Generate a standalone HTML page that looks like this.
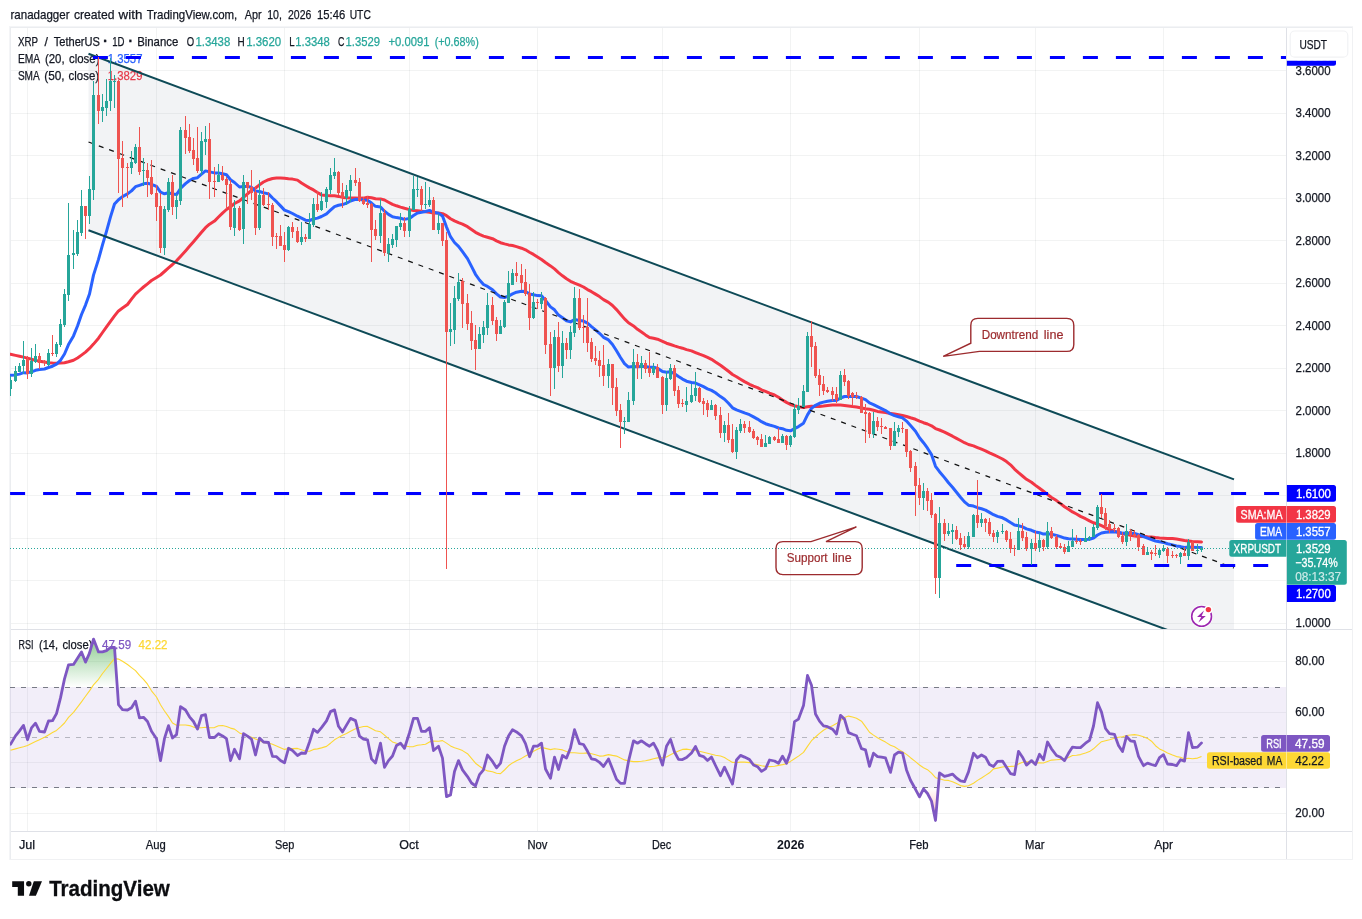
<!DOCTYPE html>
<html lang="en"><head><meta charset="utf-8"><title>XRPUSDT chart</title><style>html,body{margin:0;padding:0;background:#fff}body{width:1362px;height:919px;position:relative;overflow:hidden;font-family:"Liberation Sans",sans-serif}</style></head><body>
<svg width="1362" height="919" viewBox="0 0 1362 919" style="position:absolute;left:0;top:0;font-family:'Liberation Sans',sans-serif">
<defs>
<clipPath id="cm"><rect x="10" y="27" width="1276" height="602"/></clipPath>
<clipPath id="cr"><rect x="10" y="630" width="1276" height="201"/></clipPath>
<clipPath id="c70"><rect x="10" y="630" width="1276" height="57.1"/></clipPath>
<clipPath id="c30"><rect x="10" y="788.0" width="1276" height="43.0"/></clipPath>
<linearGradient id="gg" gradientUnits="userSpaceOnUse" x1="0" y1="611.4" x2="0" y2="687.1"><stop offset="0" stop-color="#4caf50" stop-opacity="1"/><stop offset="1" stop-color="#4caf50" stop-opacity="0"/></linearGradient>
<linearGradient id="gr" gradientUnits="userSpaceOnUse" x1="0" y1="788.0" x2="0" y2="863.7"><stop offset="0" stop-color="#ff5252" stop-opacity="0"/><stop offset="1" stop-color="#ff5252" stop-opacity="1"/></linearGradient>
</defs>
<rect x="9" y="26" width="1344" height="834" fill="#f4f5f7"/>
<rect x="10" y="27" width="1342.5" height="832.5" fill="#ebedf0"/>
<rect x="11" y="28" width="1341" height="831" fill="#fff"/>
<g shape-rendering="crispEdges" fill="rgba(42,46,57,0.06)">
<rect x="27" y="28" width="1" height="601"/>
<rect x="27" y="630" width="1" height="201"/>
<rect x="156" y="28" width="1" height="601"/>
<rect x="156" y="630" width="1" height="201"/>
<rect x="284" y="28" width="1" height="601"/>
<rect x="284" y="630" width="1" height="201"/>
<rect x="409" y="28" width="1" height="601"/>
<rect x="409" y="630" width="1" height="201"/>
<rect x="537" y="28" width="1" height="601"/>
<rect x="537" y="630" width="1" height="201"/>
<rect x="662" y="28" width="1" height="601"/>
<rect x="662" y="630" width="1" height="201"/>
<rect x="790" y="28" width="1" height="601"/>
<rect x="790" y="630" width="1" height="201"/>
<rect x="919" y="28" width="1" height="601"/>
<rect x="919" y="630" width="1" height="201"/>
<rect x="1035" y="28" width="1" height="601"/>
<rect x="1035" y="630" width="1" height="201"/>
<rect x="1163" y="28" width="1" height="601"/>
<rect x="1163" y="630" width="1" height="201"/>
<rect x="11" y="70" width="1275" height="1"/>
<rect x="11" y="113" width="1275" height="1"/>
<rect x="11" y="155" width="1275" height="1"/>
<rect x="11" y="198" width="1275" height="1"/>
<rect x="11" y="240" width="1275" height="1"/>
<rect x="11" y="283" width="1275" height="1"/>
<rect x="11" y="325" width="1275" height="1"/>
<rect x="11" y="368" width="1275" height="1"/>
<rect x="11" y="410" width="1275" height="1"/>
<rect x="11" y="453" width="1275" height="1"/>
<rect x="11" y="495" width="1275" height="1"/>
<rect x="11" y="538" width="1275" height="1"/>
<rect x="11" y="580" width="1275" height="1"/>
<rect x="11" y="623" width="1275" height="1"/>
<rect x="11" y="661" width="1275" height="1"/>
<rect x="11" y="712" width="1275" height="1"/>
<rect x="11" y="762" width="1275" height="1"/>
<rect x="11" y="813" width="1275" height="1"/>
</g>
<text y="45.8" font-size="12.3" fill="#131722" xml:space="preserve"><tspan x="17.9" textLength="19.9" lengthAdjust="spacingAndGlyphs" stroke="#131722" stroke-width="0.25">XRP</tspan> <tspan x="44.44" stroke="#131722" stroke-width="0.25">/</tspan> <tspan x="53.7" textLength="46.2" lengthAdjust="spacingAndGlyphs" stroke="#131722" stroke-width="0.25">TetherUS</tspan> <tspan x="103.1" stroke="#131722" stroke-width="0.25" font-weight="bold" font-size="15">·</tspan> <tspan x="112.2" textLength="12.3" lengthAdjust="spacingAndGlyphs" stroke="#131722" stroke-width="0.25">1D</tspan> <tspan x="128.3" stroke="#131722" stroke-width="0.25" font-weight="bold" font-size="15">·</tspan> <tspan x="137.2" textLength="41.1" lengthAdjust="spacingAndGlyphs" stroke="#131722" stroke-width="0.25">Binance</tspan> <tspan x="186.7" textLength="7.4" lengthAdjust="spacingAndGlyphs" stroke="#131722" stroke-width="0.25">O</tspan> <tspan x="195.4" textLength="34.9" lengthAdjust="spacingAndGlyphs" fill="#26a69a" stroke="#26a69a" stroke-width="0.25">1.3438</tspan> <tspan x="237.6" textLength="7.2" lengthAdjust="spacingAndGlyphs" stroke="#131722" stroke-width="0.25">H</tspan> <tspan x="246.2" textLength="35.0" lengthAdjust="spacingAndGlyphs" fill="#26a69a" stroke="#26a69a" stroke-width="0.25">1.3620</tspan> <tspan x="289.2" textLength="5.0" lengthAdjust="spacingAndGlyphs" stroke="#131722" stroke-width="0.25">L</tspan> <tspan x="295.3" textLength="34.5" lengthAdjust="spacingAndGlyphs" fill="#26a69a" stroke="#26a69a" stroke-width="0.25">1.3348</tspan> <tspan x="337.9" textLength="6.4" lengthAdjust="spacingAndGlyphs" stroke="#131722" stroke-width="0.25">C</tspan> <tspan x="345.5" textLength="34.5" lengthAdjust="spacingAndGlyphs" fill="#26a69a" stroke="#26a69a" stroke-width="0.25">1.3529</tspan> <tspan x="388.5" textLength="41.0" lengthAdjust="spacingAndGlyphs" fill="#26a69a" stroke="#26a69a" stroke-width="0.25">+0.0091</tspan> <tspan x="434.7" textLength="44.1" lengthAdjust="spacingAndGlyphs" fill="#26a69a" stroke="#26a69a" stroke-width="0.25">(+0.68%)</tspan></text>
<text y="62.8" font-size="12.3" fill="#131722" xml:space="preserve"><tspan x="17.9" textLength="21.7" lengthAdjust="spacingAndGlyphs" stroke="#131722" stroke-width="0.25">EMA</tspan> <tspan x="44.9" textLength="19.7" lengthAdjust="spacingAndGlyphs" stroke="#131722" stroke-width="0.25">(20,</tspan> <tspan x="69.0" textLength="30.5" lengthAdjust="spacingAndGlyphs" stroke="#131722" stroke-width="0.25">close)</tspan> <tspan x="107.8" textLength="34.7" lengthAdjust="spacingAndGlyphs" fill="#2962ff" stroke="#2962ff" stroke-width="0.25">1.3557</tspan></text>
<text y="79.9" font-size="12.3" fill="#131722" xml:space="preserve"><tspan x="17.9" textLength="21.3" lengthAdjust="spacingAndGlyphs" stroke="#131722" stroke-width="0.25">SMA</tspan> <tspan x="44.2" textLength="20.4" lengthAdjust="spacingAndGlyphs" stroke="#131722" stroke-width="0.25">(50,</tspan> <tspan x="68.6" textLength="30.5" lengthAdjust="spacingAndGlyphs" stroke="#131722" stroke-width="0.25">close)</tspan> <tspan x="107.8" textLength="34.7" lengthAdjust="spacingAndGlyphs" fill="#f23645" stroke="#f23645" stroke-width="0.25">1.3829</tspan></text>
<g clip-path="url(#cm)">
<polygon points="88.5,53.7 1234.0,479.4 1234.0,654.6 88.5,230.2" fill="rgba(105,118,138,0.088)"/>
<polyline points="10.5,354.3 15.5,355.4 19.5,356.2 23.5,357.1 27.5,358.1 31.5,359.2 35.5,360.4 39.5,361.2 44.5,362.1 48.5,362.8 52.5,363.1 56.5,363.3 60.5,363.1 64.5,362.8 68.5,361.8 73.5,360.3 77.5,358.0 81.5,355.1 85.5,352.1 89.5,348.4 93.5,344.1 98.5,338.2 102.5,332.5 106.5,326.9 110.5,321.3 114.5,315.9 118.5,310.9 122.5,308.1 127.5,304.5 131.5,299.1 135.5,294.1 139.5,290.5 143.5,287.0 147.5,283.8 151.5,280.5 156.5,277.4 160.5,275.0 164.5,271.5 168.5,267.9 172.5,264.5 176.5,260.8 180.5,256.4 185.5,250.9 189.5,246.3 193.5,241.7 197.5,237.1 201.5,232.3 205.5,227.7 209.5,224.2 214.5,221.1 218.5,217.0 222.5,213.1 226.5,209.5 230.5,206.8 234.5,203.5 239.5,200.9 243.5,197.4 247.5,193.9 251.5,190.5 255.5,188.0 259.5,184.8 263.5,182.0 268.5,179.7 272.5,178.5 276.5,178.1 280.5,178.0 284.5,178.3 288.5,178.8 292.5,179.1 297.5,180.1 301.5,183.0 305.5,185.5 309.5,187.9 313.5,189.9 317.5,192.5 321.5,194.9 326.5,195.5 330.5,195.7 334.5,195.8 338.5,196.4 342.5,197.4 346.5,197.8 350.5,198.0 355.5,198.1 359.5,198.2 363.5,198.1 367.5,197.3 371.5,197.7 375.5,198.8 380.5,198.9 384.5,200.0 388.5,202.2 392.5,204.3 396.5,205.8 400.5,207.1 404.5,208.3 409.5,209.6 413.5,210.6 417.5,210.8 421.5,211.2 425.5,211.8 429.5,212.2 433.5,213.1 438.5,213.0 442.5,213.7 446.5,215.7 450.5,218.7 454.5,220.9 458.5,222.7 462.5,224.2 467.5,226.7 471.5,229.5 475.5,232.3 479.5,234.3 483.5,236.1 487.5,237.3 492.5,238.7 496.5,240.8 500.5,242.7 504.5,243.9 508.5,244.9 512.5,245.5 516.5,246.6 521.5,248.2 525.5,249.8 529.5,252.2 533.5,254.4 537.5,257.0 541.5,259.5 545.5,262.5 550.5,265.9 554.5,268.9 558.5,272.6 562.5,275.8 566.5,278.8 570.5,281.3 574.5,283.2 579.5,285.2 583.5,287.0 587.5,289.6 591.5,291.7 595.5,294.1 599.5,296.6 603.5,299.6 608.5,302.4 612.5,305.5 616.5,309.6 620.5,314.2 624.5,318.9 628.5,322.8 633.5,325.9 637.5,329.3 641.5,332.0 645.5,334.9 649.5,337.5 653.5,338.2 657.5,339.2 662.5,341.3 666.5,343.2 670.5,344.5 674.5,345.9 678.5,347.1 682.5,348.2 686.5,349.6 691.5,350.9 695.5,352.6 699.5,354.2 703.5,355.6 707.5,357.3 711.5,359.3 715.5,362.0 720.5,365.2 724.5,368.2 728.5,371.3 732.5,374.5 736.5,376.7 740.5,379.2 744.5,381.6 749.5,384.3 753.5,386.2 757.5,387.6 761.5,389.8 765.5,391.4 769.5,393.2 774.5,395.0 778.5,397.3 782.5,400.0 786.5,402.4 790.5,404.5 794.5,405.8 798.5,406.8 803.5,407.4 807.5,406.8 811.5,406.2 815.5,406.4 819.5,406.4 823.5,406.0 827.5,405.4 832.5,404.9 836.5,404.9 840.5,405.1 844.5,405.4 848.5,406.0 852.5,406.6 856.5,407.1 861.5,408.0 865.5,408.7 869.5,409.3 873.5,410.2 877.5,411.4 881.5,412.1 885.5,412.6 890.5,413.4 894.5,414.0 898.5,414.7 902.5,415.5 906.5,416.5 910.5,417.8 915.5,419.3 919.5,421.2 923.5,422.7 927.5,424.0 931.5,425.8 935.5,428.6 939.5,430.0 944.5,432.1 948.5,434.2 952.5,436.2 956.5,438.4 960.5,440.5 964.5,442.7 968.5,444.5 973.5,445.9 977.5,447.6 981.5,449.2 985.5,450.8 989.5,452.8 993.5,454.6 997.5,456.5 1002.5,459.0 1006.5,461.6 1010.5,464.8 1014.5,469.1 1018.5,472.7 1022.5,476.0 1026.5,479.3 1031.5,482.3 1035.5,485.4 1039.5,488.3 1043.5,491.3 1047.5,494.4 1051.5,497.5 1056.5,500.6 1060.5,503.6 1064.5,506.7 1068.5,509.3 1072.5,511.9 1076.5,514.0 1080.5,516.4 1085.5,518.7 1089.5,520.9 1093.5,522.8 1097.5,524.0 1101.5,525.7 1105.5,527.7 1109.5,529.7 1114.5,531.2 1118.5,532.6 1122.5,533.7 1126.5,534.4 1130.5,535.3 1134.5,536.0 1138.5,536.6 1143.5,536.2 1147.5,536.7 1151.5,537.1 1155.5,537.6 1159.5,538.0 1163.5,538.2 1167.5,538.4 1172.5,538.6 1176.5,539.0 1180.5,539.7 1184.5,540.4 1188.5,540.9 1192.5,541.4 1197.5,541.7 1201.5,542.0" fill="none" stroke="#f23645" stroke-width="3" stroke-linejoin="round" stroke-linecap="round" />
<polyline points="10.5,375.3 15.5,374.9 19.5,374.1 23.5,372.7 27.5,372.9 31.5,371.8 35.5,370.3 39.5,369.6 44.5,369.0 48.5,367.5 52.5,366.2 56.5,364.1 60.5,360.3 64.5,354.0 68.5,344.6 73.5,335.9 77.5,326.0 81.5,314.5 85.5,305.1 89.5,294.0 93.5,275.1 98.5,259.4 102.5,244.9 106.5,231.3 110.5,216.9 114.5,204.0 118.5,199.7 122.5,196.6 127.5,193.9 131.5,190.9 135.5,186.7 139.5,185.3 143.5,183.8 147.5,183.3 151.5,184.3 156.5,186.4 160.5,192.2 164.5,193.8 168.5,192.7 172.5,194.1 176.5,194.6 180.5,188.5 185.5,183.6 189.5,180.5 193.5,178.4 197.5,177.7 201.5,174.2 205.5,170.9 209.5,171.9 214.5,172.9 218.5,173.1 222.5,173.7 226.5,174.8 230.5,179.8 234.5,182.5 239.5,187.0 243.5,186.5 247.5,186.6 251.5,187.2 255.5,191.1 259.5,191.5 263.5,192.8 268.5,193.9 272.5,198.0 276.5,201.7 280.5,205.9 284.5,210.1 288.5,211.7 292.5,213.5 297.5,216.2 301.5,218.2 305.5,220.2 309.5,220.5 313.5,219.0 317.5,218.1 321.5,216.5 326.5,213.9 330.5,210.2 334.5,206.6 338.5,205.3 342.5,204.6 346.5,203.2 350.5,201.0 355.5,199.3 359.5,199.4 363.5,199.9 367.5,200.3 371.5,203.1 375.5,206.3 380.5,206.9 384.5,211.2 388.5,214.4 392.5,216.8 396.5,217.6 400.5,218.2 404.5,219.4 409.5,218.4 413.5,215.6 417.5,213.1 421.5,212.3 425.5,211.5 429.5,210.4 433.5,212.3 438.5,213.3 442.5,215.9 446.5,227.0 450.5,236.7 454.5,242.5 458.5,246.3 462.5,251.7 467.5,258.6 471.5,266.4 475.5,274.3 479.5,280.0 483.5,284.5 487.5,286.4 492.5,289.7 496.5,293.9 500.5,297.0 504.5,297.5 508.5,296.1 512.5,293.9 516.5,292.2 521.5,291.3 525.5,291.5 529.5,294.1 533.5,294.8 537.5,295.6 541.5,295.8 545.5,300.5 550.5,306.9 554.5,309.8 558.5,315.1 562.5,317.8 566.5,320.8 570.5,321.9 574.5,319.6 579.5,320.4 583.5,321.1 587.5,323.2 591.5,326.6 595.5,329.8 599.5,333.3 603.5,337.3 608.5,339.9 612.5,344.5 616.5,350.8 620.5,357.5 624.5,363.6 628.5,367.1 633.5,366.6 637.5,366.7 641.5,366.4 645.5,366.6 649.5,367.2 653.5,367.2 657.5,368.2 662.5,371.6 666.5,372.2 670.5,371.8 674.5,373.7 678.5,376.5 682.5,379.1 686.5,381.2 691.5,382.5 695.5,383.1 699.5,384.9 703.5,386.7 707.5,388.8 711.5,390.4 715.5,392.8 720.5,396.6 724.5,399.3 728.5,403.2 732.5,407.8 736.5,409.9 740.5,411.3 744.5,412.9 749.5,414.7 753.5,416.9 757.5,419.1 761.5,421.7 765.5,423.7 769.5,425.0 774.5,426.4 778.5,428.0 782.5,428.7 786.5,430.3 790.5,430.8 794.5,428.7 798.5,426.6 803.5,423.2 807.5,414.9 811.5,408.4 815.5,405.3 819.5,403.3 823.5,402.1 827.5,401.2 832.5,400.6 836.5,400.5 840.5,398.0 844.5,396.5 848.5,396.4 852.5,396.5 856.5,396.5 861.5,398.1 865.5,399.6 869.5,402.9 873.5,404.6 877.5,406.7 881.5,408.7 885.5,410.6 890.5,413.9 894.5,415.6 898.5,416.7 902.5,417.9 906.5,421.1 910.5,425.6 915.5,431.3 919.5,437.7 923.5,442.7 927.5,448.2 931.5,454.6 935.5,466.3 939.5,471.7 944.5,477.6 948.5,482.7 952.5,487.2 956.5,492.2 960.5,497.2 964.5,501.9 968.5,505.2 973.5,506.1 977.5,507.7 981.5,508.8 985.5,510.1 989.5,512.4 993.5,514.7 997.5,516.4 1002.5,517.8 1006.5,519.9 1010.5,522.6 1014.5,525.1 1018.5,525.7 1022.5,526.9 1026.5,528.9 1031.5,530.3 1035.5,532.0 1039.5,532.7 1043.5,534.1 1047.5,533.8 1051.5,534.2 1056.5,535.4 1060.5,536.6 1064.5,538.1 1068.5,538.8 1072.5,539.0 1076.5,539.3 1080.5,539.6 1085.5,539.4 1089.5,539.2 1093.5,538.0 1097.5,535.0 1101.5,533.0 1105.5,532.3 1109.5,532.0 1114.5,531.8 1118.5,532.3 1122.5,533.2 1126.5,533.0 1130.5,533.2 1134.5,533.4 1138.5,534.7 1143.5,536.6 1147.5,538.1 1151.5,539.6 1155.5,541.0 1159.5,541.8 1163.5,542.4 1167.5,543.7 1172.5,544.9 1176.5,546.0 1180.5,546.6 1184.5,547.5 1188.5,547.0 1192.5,547.3 1197.5,547.6 1201.5,547.6" fill="none" stroke="#2962ff" stroke-width="3" stroke-linejoin="round" stroke-linecap="round" />
<line x1="88.5" y1="142.0" x2="1234.0" y2="568.0" stroke="#111" stroke-width="1.2" stroke-dasharray="5 6"/>
<line x1="88.5" y1="53.7" x2="1234.0" y2="479.4" stroke="#0e4a57" stroke-width="2"/>
<line x1="88.5" y1="230.2" x2="1234.0" y2="654.6" stroke="#0e4a57" stroke-width="2"/>
<line x1="92.9" y1="57.5" x2="1286" y2="57.5" stroke="#0000ff" stroke-width="3" stroke-dasharray="15 18"/>
<line x1="10.1" y1="493.5" x2="1286" y2="493.5" stroke="#0000ff" stroke-width="3" stroke-dasharray="15 18"/>
<line x1="956.2" y1="565.5" x2="1286" y2="565.5" stroke="#0000ff" stroke-width="3" stroke-dasharray="15 18"/>
<g shape-rendering="crispEdges">
<rect x="10" y="376" width="1" height="20" fill="#26a69a"/>
<rect x="9" y="380" width="3" height="9" fill="#26a69a"/>
<rect x="15" y="366" width="1" height="16" fill="#26a69a"/>
<rect x="14" y="371" width="3" height="10" fill="#26a69a"/>
<rect x="19" y="363" width="1" height="9" fill="#26a69a"/>
<rect x="18" y="366" width="3" height="6" fill="#26a69a"/>
<rect x="23" y="341" width="1" height="33" fill="#26a69a"/>
<rect x="22" y="360" width="3" height="6" fill="#26a69a"/>
<rect x="27" y="356" width="1" height="23" fill="#ef5350"/>
<rect x="26" y="359" width="3" height="15" fill="#ef5350"/>
<rect x="31" y="348" width="1" height="29" fill="#26a69a"/>
<rect x="30" y="361" width="3" height="13" fill="#26a69a"/>
<rect x="35" y="344" width="1" height="19" fill="#26a69a"/>
<rect x="34" y="356" width="3" height="6" fill="#26a69a"/>
<rect x="39" y="353" width="1" height="16" fill="#ef5350"/>
<rect x="38" y="356" width="3" height="7" fill="#ef5350"/>
<rect x="44" y="360" width="1" height="6" fill="#ef5350"/>
<rect x="43" y="361" width="3" height="2" fill="#ef5350"/>
<rect x="48" y="349" width="1" height="17" fill="#26a69a"/>
<rect x="47" y="353" width="3" height="12" fill="#26a69a"/>
<rect x="52" y="335" width="1" height="21" fill="#ef5350"/>
<rect x="51" y="353" width="3" height="1" fill="#ef5350"/>
<rect x="56" y="342" width="1" height="15" fill="#26a69a"/>
<rect x="55" y="344" width="3" height="10" fill="#26a69a"/>
<rect x="60" y="319" width="1" height="28" fill="#26a69a"/>
<rect x="59" y="324" width="3" height="21" fill="#26a69a"/>
<rect x="64" y="289" width="1" height="38" fill="#26a69a"/>
<rect x="63" y="294" width="3" height="31" fill="#26a69a"/>
<rect x="68" y="203" width="1" height="98" fill="#26a69a"/>
<rect x="67" y="255" width="3" height="40" fill="#26a69a"/>
<rect x="73" y="230" width="1" height="39" fill="#26a69a"/>
<rect x="72" y="253" width="3" height="2" fill="#26a69a"/>
<rect x="77" y="220" width="1" height="36" fill="#26a69a"/>
<rect x="76" y="232" width="3" height="22" fill="#26a69a"/>
<rect x="81" y="190" width="1" height="46" fill="#26a69a"/>
<rect x="80" y="206" width="3" height="27" fill="#26a69a"/>
<rect x="85" y="206" width="1" height="33" fill="#ef5350"/>
<rect x="84" y="206" width="3" height="10" fill="#ef5350"/>
<rect x="89" y="176" width="1" height="48" fill="#26a69a"/>
<rect x="88" y="189" width="3" height="27" fill="#26a69a"/>
<rect x="93" y="81" width="1" height="119" fill="#26a69a"/>
<rect x="92" y="95" width="3" height="95" fill="#26a69a"/>
<rect x="98" y="57" width="1" height="67" fill="#ef5350"/>
<rect x="97" y="95" width="3" height="16" fill="#ef5350"/>
<rect x="102" y="94" width="1" height="28" fill="#26a69a"/>
<rect x="101" y="107" width="3" height="4" fill="#26a69a"/>
<rect x="106" y="79" width="1" height="37" fill="#26a69a"/>
<rect x="105" y="101" width="3" height="7" fill="#26a69a"/>
<rect x="110" y="58" width="1" height="53" fill="#26a69a"/>
<rect x="109" y="81" width="3" height="20" fill="#26a69a"/>
<rect x="114" y="75" width="1" height="33" fill="#26a69a"/>
<rect x="113" y="81" width="3" height="1" fill="#26a69a"/>
<rect x="118" y="80" width="1" height="113" fill="#ef5350"/>
<rect x="117" y="81" width="3" height="78" fill="#ef5350"/>
<rect x="122" y="141" width="1" height="66" fill="#ef5350"/>
<rect x="121" y="158" width="3" height="10" fill="#ef5350"/>
<rect x="127" y="163" width="1" height="35" fill="#ef5350"/>
<rect x="126" y="167" width="3" height="1" fill="#ef5350"/>
<rect x="131" y="151" width="1" height="23" fill="#26a69a"/>
<rect x="130" y="162" width="3" height="6" fill="#26a69a"/>
<rect x="135" y="144" width="1" height="20" fill="#26a69a"/>
<rect x="134" y="147" width="3" height="16" fill="#26a69a"/>
<rect x="139" y="127" width="1" height="48" fill="#ef5350"/>
<rect x="138" y="147" width="3" height="25" fill="#ef5350"/>
<rect x="143" y="158" width="1" height="28" fill="#26a69a"/>
<rect x="142" y="170" width="3" height="1" fill="#26a69a"/>
<rect x="147" y="163" width="1" height="34" fill="#ef5350"/>
<rect x="146" y="170" width="3" height="8" fill="#ef5350"/>
<rect x="151" y="160" width="1" height="35" fill="#ef5350"/>
<rect x="150" y="177" width="3" height="17" fill="#ef5350"/>
<rect x="156" y="185" width="1" height="36" fill="#ef5350"/>
<rect x="155" y="193" width="3" height="14" fill="#ef5350"/>
<rect x="160" y="193" width="1" height="60" fill="#ef5350"/>
<rect x="159" y="206" width="3" height="42" fill="#ef5350"/>
<rect x="164" y="206" width="1" height="49" fill="#26a69a"/>
<rect x="163" y="209" width="3" height="39" fill="#26a69a"/>
<rect x="168" y="178" width="1" height="34" fill="#26a69a"/>
<rect x="167" y="182" width="3" height="28" fill="#26a69a"/>
<rect x="172" y="175" width="1" height="40" fill="#ef5350"/>
<rect x="171" y="182" width="3" height="25" fill="#ef5350"/>
<rect x="176" y="194" width="1" height="25" fill="#26a69a"/>
<rect x="175" y="200" width="3" height="7" fill="#26a69a"/>
<rect x="180" y="127" width="1" height="78" fill="#26a69a"/>
<rect x="179" y="130" width="3" height="71" fill="#26a69a"/>
<rect x="185" y="116" width="1" height="38" fill="#ef5350"/>
<rect x="184" y="130" width="3" height="8" fill="#ef5350"/>
<rect x="189" y="124" width="1" height="29" fill="#ef5350"/>
<rect x="188" y="137" width="3" height="14" fill="#ef5350"/>
<rect x="193" y="138" width="1" height="27" fill="#ef5350"/>
<rect x="192" y="150" width="3" height="9" fill="#ef5350"/>
<rect x="197" y="127" width="1" height="46" fill="#ef5350"/>
<rect x="196" y="158" width="3" height="13" fill="#ef5350"/>
<rect x="201" y="132" width="1" height="43" fill="#26a69a"/>
<rect x="200" y="141" width="3" height="30" fill="#26a69a"/>
<rect x="205" y="126" width="1" height="29" fill="#26a69a"/>
<rect x="204" y="139" width="3" height="3" fill="#26a69a"/>
<rect x="209" y="123" width="1" height="76" fill="#ef5350"/>
<rect x="208" y="139" width="3" height="43" fill="#ef5350"/>
<rect x="214" y="167" width="1" height="30" fill="#ef5350"/>
<rect x="213" y="181" width="3" height="1" fill="#ef5350"/>
<rect x="218" y="164" width="1" height="18" fill="#26a69a"/>
<rect x="217" y="175" width="3" height="7" fill="#26a69a"/>
<rect x="222" y="166" width="1" height="15" fill="#ef5350"/>
<rect x="221" y="175" width="3" height="5" fill="#ef5350"/>
<rect x="226" y="177" width="1" height="32" fill="#ef5350"/>
<rect x="225" y="179" width="3" height="6" fill="#ef5350"/>
<rect x="230" y="180" width="1" height="50" fill="#ef5350"/>
<rect x="229" y="184" width="3" height="43" fill="#ef5350"/>
<rect x="234" y="200" width="1" height="36" fill="#26a69a"/>
<rect x="233" y="208" width="3" height="20" fill="#26a69a"/>
<rect x="239" y="206" width="1" height="25" fill="#ef5350"/>
<rect x="238" y="208" width="3" height="22" fill="#ef5350"/>
<rect x="243" y="175" width="1" height="69" fill="#26a69a"/>
<rect x="242" y="182" width="3" height="47" fill="#26a69a"/>
<rect x="247" y="182" width="1" height="22" fill="#ef5350"/>
<rect x="246" y="182" width="3" height="6" fill="#ef5350"/>
<rect x="251" y="170" width="1" height="30" fill="#ef5350"/>
<rect x="250" y="187" width="3" height="6" fill="#ef5350"/>
<rect x="255" y="187" width="1" height="48" fill="#ef5350"/>
<rect x="254" y="192" width="3" height="36" fill="#ef5350"/>
<rect x="259" y="180" width="1" height="50" fill="#26a69a"/>
<rect x="258" y="195" width="3" height="33" fill="#26a69a"/>
<rect x="263" y="188" width="1" height="18" fill="#ef5350"/>
<rect x="262" y="195" width="3" height="10" fill="#ef5350"/>
<rect x="268" y="192" width="1" height="18" fill="#ef5350"/>
<rect x="267" y="204" width="3" height="1" fill="#ef5350"/>
<rect x="272" y="203" width="1" height="43" fill="#ef5350"/>
<rect x="271" y="205" width="3" height="32" fill="#ef5350"/>
<rect x="276" y="233" width="1" height="16" fill="#ef5350"/>
<rect x="275" y="236" width="3" height="1" fill="#ef5350"/>
<rect x="280" y="225" width="1" height="21" fill="#ef5350"/>
<rect x="279" y="236" width="3" height="10" fill="#ef5350"/>
<rect x="284" y="232" width="1" height="30" fill="#ef5350"/>
<rect x="283" y="245" width="3" height="5" fill="#ef5350"/>
<rect x="288" y="226" width="1" height="25" fill="#26a69a"/>
<rect x="287" y="227" width="3" height="23" fill="#26a69a"/>
<rect x="292" y="222" width="1" height="16" fill="#ef5350"/>
<rect x="291" y="227" width="3" height="5" fill="#ef5350"/>
<rect x="297" y="227" width="1" height="16" fill="#ef5350"/>
<rect x="296" y="231" width="3" height="11" fill="#ef5350"/>
<rect x="301" y="222" width="1" height="23" fill="#26a69a"/>
<rect x="300" y="237" width="3" height="5" fill="#26a69a"/>
<rect x="305" y="234" width="1" height="8" fill="#ef5350"/>
<rect x="304" y="237" width="3" height="2" fill="#ef5350"/>
<rect x="309" y="213" width="1" height="26" fill="#26a69a"/>
<rect x="308" y="224" width="3" height="15" fill="#26a69a"/>
<rect x="313" y="198" width="1" height="29" fill="#26a69a"/>
<rect x="312" y="204" width="3" height="21" fill="#26a69a"/>
<rect x="317" y="191" width="1" height="21" fill="#ef5350"/>
<rect x="316" y="204" width="3" height="6" fill="#ef5350"/>
<rect x="321" y="192" width="1" height="19" fill="#26a69a"/>
<rect x="320" y="201" width="3" height="9" fill="#26a69a"/>
<rect x="326" y="187" width="1" height="21" fill="#26a69a"/>
<rect x="325" y="189" width="3" height="13" fill="#26a69a"/>
<rect x="330" y="168" width="1" height="26" fill="#26a69a"/>
<rect x="329" y="175" width="3" height="15" fill="#26a69a"/>
<rect x="334" y="158" width="1" height="21" fill="#26a69a"/>
<rect x="333" y="172" width="3" height="4" fill="#26a69a"/>
<rect x="338" y="171" width="1" height="24" fill="#ef5350"/>
<rect x="337" y="172" width="3" height="21" fill="#ef5350"/>
<rect x="342" y="183" width="1" height="25" fill="#ef5350"/>
<rect x="341" y="192" width="3" height="6" fill="#ef5350"/>
<rect x="346" y="185" width="1" height="20" fill="#26a69a"/>
<rect x="345" y="190" width="3" height="8" fill="#26a69a"/>
<rect x="350" y="175" width="1" height="27" fill="#26a69a"/>
<rect x="349" y="180" width="3" height="11" fill="#26a69a"/>
<rect x="355" y="168" width="1" height="18" fill="#ef5350"/>
<rect x="354" y="180" width="3" height="3" fill="#ef5350"/>
<rect x="359" y="178" width="1" height="24" fill="#ef5350"/>
<rect x="358" y="182" width="3" height="19" fill="#ef5350"/>
<rect x="363" y="197" width="1" height="8" fill="#ef5350"/>
<rect x="362" y="200" width="3" height="4" fill="#ef5350"/>
<rect x="367" y="196" width="1" height="12" fill="#ef5350"/>
<rect x="366" y="203" width="3" height="2" fill="#ef5350"/>
<rect x="371" y="203" width="1" height="59" fill="#ef5350"/>
<rect x="370" y="204" width="3" height="26" fill="#ef5350"/>
<rect x="375" y="220" width="1" height="20" fill="#ef5350"/>
<rect x="374" y="229" width="3" height="7" fill="#ef5350"/>
<rect x="380" y="199" width="1" height="44" fill="#26a69a"/>
<rect x="379" y="213" width="3" height="23" fill="#26a69a"/>
<rect x="384" y="209" width="1" height="47" fill="#ef5350"/>
<rect x="383" y="213" width="3" height="40" fill="#ef5350"/>
<rect x="388" y="238" width="1" height="24" fill="#26a69a"/>
<rect x="387" y="244" width="3" height="9" fill="#26a69a"/>
<rect x="392" y="234" width="1" height="14" fill="#26a69a"/>
<rect x="391" y="239" width="3" height="6" fill="#26a69a"/>
<rect x="396" y="226" width="1" height="21" fill="#26a69a"/>
<rect x="395" y="226" width="3" height="14" fill="#26a69a"/>
<rect x="400" y="213" width="1" height="17" fill="#26a69a"/>
<rect x="399" y="223" width="3" height="4" fill="#26a69a"/>
<rect x="404" y="217" width="1" height="20" fill="#ef5350"/>
<rect x="403" y="223" width="3" height="8" fill="#ef5350"/>
<rect x="409" y="206" width="1" height="31" fill="#26a69a"/>
<rect x="408" y="209" width="3" height="22" fill="#26a69a"/>
<rect x="413" y="176" width="1" height="34" fill="#26a69a"/>
<rect x="412" y="189" width="3" height="21" fill="#26a69a"/>
<rect x="417" y="177" width="1" height="20" fill="#26a69a"/>
<rect x="416" y="189" width="3" height="1" fill="#26a69a"/>
<rect x="421" y="186" width="1" height="25" fill="#ef5350"/>
<rect x="420" y="189" width="3" height="16" fill="#ef5350"/>
<rect x="425" y="182" width="1" height="27" fill="#26a69a"/>
<rect x="424" y="204" width="3" height="1" fill="#26a69a"/>
<rect x="429" y="187" width="1" height="20" fill="#26a69a"/>
<rect x="428" y="200" width="3" height="5" fill="#26a69a"/>
<rect x="433" y="197" width="1" height="33" fill="#ef5350"/>
<rect x="432" y="200" width="3" height="30" fill="#ef5350"/>
<rect x="438" y="214" width="1" height="20" fill="#26a69a"/>
<rect x="437" y="223" width="3" height="7" fill="#26a69a"/>
<rect x="442" y="223" width="1" height="23" fill="#ef5350"/>
<rect x="441" y="223" width="3" height="18" fill="#ef5350"/>
<rect x="446" y="232" width="1" height="337" fill="#ef5350"/>
<rect x="445" y="240" width="3" height="92" fill="#ef5350"/>
<rect x="450" y="303" width="1" height="43" fill="#26a69a"/>
<rect x="449" y="329" width="3" height="3" fill="#26a69a"/>
<rect x="454" y="286" width="1" height="58" fill="#26a69a"/>
<rect x="453" y="298" width="3" height="32" fill="#26a69a"/>
<rect x="458" y="273" width="1" height="28" fill="#26a69a"/>
<rect x="457" y="282" width="3" height="17" fill="#26a69a"/>
<rect x="462" y="278" width="1" height="50" fill="#ef5350"/>
<rect x="461" y="281" width="3" height="23" fill="#ef5350"/>
<rect x="467" y="294" width="1" height="36" fill="#ef5350"/>
<rect x="466" y="303" width="3" height="21" fill="#ef5350"/>
<rect x="471" y="311" width="1" height="39" fill="#ef5350"/>
<rect x="470" y="323" width="3" height="18" fill="#ef5350"/>
<rect x="475" y="325" width="1" height="45" fill="#ef5350"/>
<rect x="474" y="340" width="3" height="9" fill="#ef5350"/>
<rect x="479" y="327" width="1" height="22" fill="#26a69a"/>
<rect x="478" y="334" width="3" height="15" fill="#26a69a"/>
<rect x="483" y="321" width="1" height="22" fill="#26a69a"/>
<rect x="482" y="327" width="3" height="8" fill="#26a69a"/>
<rect x="487" y="293" width="1" height="42" fill="#26a69a"/>
<rect x="486" y="305" width="3" height="23" fill="#26a69a"/>
<rect x="492" y="297" width="1" height="28" fill="#ef5350"/>
<rect x="491" y="305" width="3" height="16" fill="#ef5350"/>
<rect x="496" y="317" width="1" height="24" fill="#ef5350"/>
<rect x="495" y="320" width="3" height="14" fill="#ef5350"/>
<rect x="500" y="320" width="1" height="14" fill="#26a69a"/>
<rect x="499" y="326" width="3" height="8" fill="#26a69a"/>
<rect x="504" y="300" width="1" height="28" fill="#26a69a"/>
<rect x="503" y="302" width="3" height="25" fill="#26a69a"/>
<rect x="508" y="271" width="1" height="32" fill="#26a69a"/>
<rect x="507" y="283" width="3" height="20" fill="#26a69a"/>
<rect x="512" y="269" width="1" height="16" fill="#26a69a"/>
<rect x="511" y="273" width="3" height="12" fill="#26a69a"/>
<rect x="516" y="262" width="1" height="20" fill="#ef5350"/>
<rect x="515" y="273" width="3" height="3" fill="#ef5350"/>
<rect x="521" y="264" width="1" height="26" fill="#ef5350"/>
<rect x="520" y="275" width="3" height="8" fill="#ef5350"/>
<rect x="525" y="269" width="1" height="27" fill="#ef5350"/>
<rect x="524" y="282" width="3" height="12" fill="#ef5350"/>
<rect x="529" y="284" width="1" height="46" fill="#ef5350"/>
<rect x="528" y="293" width="3" height="25" fill="#ef5350"/>
<rect x="533" y="292" width="1" height="27" fill="#26a69a"/>
<rect x="532" y="302" width="3" height="16" fill="#26a69a"/>
<rect x="537" y="299" width="1" height="10" fill="#ef5350"/>
<rect x="536" y="302" width="3" height="1" fill="#ef5350"/>
<rect x="541" y="292" width="1" height="17" fill="#26a69a"/>
<rect x="540" y="298" width="3" height="6" fill="#26a69a"/>
<rect x="545" y="297" width="1" height="57" fill="#ef5350"/>
<rect x="544" y="298" width="3" height="47" fill="#ef5350"/>
<rect x="550" y="332" width="1" height="64" fill="#ef5350"/>
<rect x="549" y="344" width="3" height="24" fill="#ef5350"/>
<rect x="554" y="330" width="1" height="59" fill="#26a69a"/>
<rect x="553" y="337" width="3" height="31" fill="#26a69a"/>
<rect x="558" y="322" width="1" height="50" fill="#ef5350"/>
<rect x="557" y="337" width="3" height="29" fill="#ef5350"/>
<rect x="562" y="331" width="1" height="47" fill="#26a69a"/>
<rect x="561" y="343" width="3" height="23" fill="#26a69a"/>
<rect x="566" y="338" width="1" height="21" fill="#ef5350"/>
<rect x="565" y="343" width="3" height="7" fill="#ef5350"/>
<rect x="570" y="326" width="1" height="33" fill="#26a69a"/>
<rect x="569" y="332" width="3" height="18" fill="#26a69a"/>
<rect x="574" y="287" width="1" height="50" fill="#26a69a"/>
<rect x="573" y="298" width="3" height="35" fill="#26a69a"/>
<rect x="579" y="289" width="1" height="41" fill="#ef5350"/>
<rect x="578" y="298" width="3" height="30" fill="#ef5350"/>
<rect x="583" y="315" width="1" height="28" fill="#ef5350"/>
<rect x="582" y="327" width="3" height="1" fill="#ef5350"/>
<rect x="587" y="298" width="1" height="54" fill="#ef5350"/>
<rect x="586" y="327" width="3" height="16" fill="#ef5350"/>
<rect x="591" y="338" width="1" height="24" fill="#ef5350"/>
<rect x="590" y="342" width="3" height="17" fill="#ef5350"/>
<rect x="595" y="346" width="1" height="19" fill="#ef5350"/>
<rect x="594" y="358" width="3" height="3" fill="#ef5350"/>
<rect x="599" y="351" width="1" height="26" fill="#ef5350"/>
<rect x="598" y="360" width="3" height="6" fill="#ef5350"/>
<rect x="603" y="345" width="1" height="41" fill="#ef5350"/>
<rect x="602" y="365" width="3" height="11" fill="#ef5350"/>
<rect x="608" y="359" width="1" height="29" fill="#26a69a"/>
<rect x="607" y="364" width="3" height="12" fill="#26a69a"/>
<rect x="612" y="364" width="1" height="41" fill="#ef5350"/>
<rect x="611" y="364" width="3" height="24" fill="#ef5350"/>
<rect x="616" y="378" width="1" height="38" fill="#ef5350"/>
<rect x="615" y="387" width="3" height="24" fill="#ef5350"/>
<rect x="620" y="404" width="1" height="44" fill="#ef5350"/>
<rect x="619" y="410" width="3" height="12" fill="#ef5350"/>
<rect x="624" y="417" width="1" height="17" fill="#26a69a"/>
<rect x="623" y="421" width="3" height="1" fill="#26a69a"/>
<rect x="628" y="392" width="1" height="30" fill="#26a69a"/>
<rect x="627" y="400" width="3" height="22" fill="#26a69a"/>
<rect x="633" y="349" width="1" height="56" fill="#26a69a"/>
<rect x="632" y="362" width="3" height="39" fill="#26a69a"/>
<rect x="637" y="354" width="1" height="25" fill="#ef5350"/>
<rect x="636" y="362" width="3" height="6" fill="#ef5350"/>
<rect x="641" y="356" width="1" height="23" fill="#26a69a"/>
<rect x="640" y="363" width="3" height="5" fill="#26a69a"/>
<rect x="645" y="360" width="1" height="13" fill="#ef5350"/>
<rect x="644" y="363" width="3" height="6" fill="#ef5350"/>
<rect x="649" y="352" width="1" height="25" fill="#ef5350"/>
<rect x="648" y="368" width="3" height="5" fill="#ef5350"/>
<rect x="653" y="363" width="1" height="12" fill="#26a69a"/>
<rect x="652" y="367" width="3" height="6" fill="#26a69a"/>
<rect x="657" y="364" width="1" height="14" fill="#ef5350"/>
<rect x="656" y="367" width="3" height="11" fill="#ef5350"/>
<rect x="662" y="376" width="1" height="38" fill="#ef5350"/>
<rect x="661" y="377" width="3" height="28" fill="#ef5350"/>
<rect x="666" y="371" width="1" height="40" fill="#26a69a"/>
<rect x="665" y="378" width="3" height="27" fill="#26a69a"/>
<rect x="670" y="364" width="1" height="16" fill="#26a69a"/>
<rect x="669" y="368" width="3" height="11" fill="#26a69a"/>
<rect x="674" y="365" width="1" height="31" fill="#ef5350"/>
<rect x="673" y="368" width="3" height="23" fill="#ef5350"/>
<rect x="678" y="386" width="1" height="22" fill="#ef5350"/>
<rect x="677" y="390" width="3" height="14" fill="#ef5350"/>
<rect x="682" y="399" width="1" height="8" fill="#ef5350"/>
<rect x="681" y="403" width="3" height="1" fill="#ef5350"/>
<rect x="686" y="387" width="1" height="25" fill="#26a69a"/>
<rect x="685" y="401" width="3" height="4" fill="#26a69a"/>
<rect x="691" y="384" width="1" height="19" fill="#26a69a"/>
<rect x="690" y="395" width="3" height="7" fill="#26a69a"/>
<rect x="695" y="372" width="1" height="29" fill="#26a69a"/>
<rect x="694" y="388" width="3" height="8" fill="#26a69a"/>
<rect x="699" y="387" width="1" height="16" fill="#ef5350"/>
<rect x="698" y="388" width="3" height="14" fill="#ef5350"/>
<rect x="703" y="398" width="1" height="17" fill="#ef5350"/>
<rect x="702" y="401" width="3" height="3" fill="#ef5350"/>
<rect x="707" y="400" width="1" height="17" fill="#ef5350"/>
<rect x="706" y="403" width="3" height="7" fill="#ef5350"/>
<rect x="711" y="400" width="1" height="10" fill="#26a69a"/>
<rect x="710" y="405" width="3" height="5" fill="#26a69a"/>
<rect x="715" y="404" width="1" height="16" fill="#ef5350"/>
<rect x="714" y="405" width="3" height="11" fill="#ef5350"/>
<rect x="720" y="407" width="1" height="31" fill="#ef5350"/>
<rect x="719" y="415" width="3" height="18" fill="#ef5350"/>
<rect x="724" y="421" width="1" height="21" fill="#26a69a"/>
<rect x="723" y="425" width="3" height="8" fill="#26a69a"/>
<rect x="728" y="413" width="1" height="30" fill="#ef5350"/>
<rect x="727" y="425" width="3" height="15" fill="#ef5350"/>
<rect x="732" y="424" width="1" height="29" fill="#ef5350"/>
<rect x="731" y="439" width="3" height="13" fill="#ef5350"/>
<rect x="736" y="427" width="1" height="32" fill="#26a69a"/>
<rect x="735" y="430" width="3" height="22" fill="#26a69a"/>
<rect x="740" y="419" width="1" height="14" fill="#26a69a"/>
<rect x="739" y="424" width="3" height="7" fill="#26a69a"/>
<rect x="744" y="421" width="1" height="12" fill="#ef5350"/>
<rect x="743" y="424" width="3" height="4" fill="#ef5350"/>
<rect x="749" y="421" width="1" height="12" fill="#ef5350"/>
<rect x="748" y="427" width="3" height="5" fill="#ef5350"/>
<rect x="753" y="429" width="1" height="10" fill="#ef5350"/>
<rect x="752" y="431" width="3" height="7" fill="#ef5350"/>
<rect x="757" y="436" width="1" height="9" fill="#ef5350"/>
<rect x="756" y="437" width="3" height="3" fill="#ef5350"/>
<rect x="761" y="434" width="1" height="13" fill="#ef5350"/>
<rect x="760" y="439" width="3" height="8" fill="#ef5350"/>
<rect x="765" y="435" width="1" height="12" fill="#26a69a"/>
<rect x="764" y="443" width="3" height="4" fill="#26a69a"/>
<rect x="769" y="436" width="1" height="8" fill="#26a69a"/>
<rect x="768" y="437" width="3" height="7" fill="#26a69a"/>
<rect x="774" y="436" width="1" height="5" fill="#ef5350"/>
<rect x="773" y="437" width="3" height="3" fill="#ef5350"/>
<rect x="778" y="428" width="1" height="15" fill="#ef5350"/>
<rect x="777" y="439" width="3" height="4" fill="#ef5350"/>
<rect x="782" y="434" width="1" height="9" fill="#26a69a"/>
<rect x="781" y="436" width="3" height="7" fill="#26a69a"/>
<rect x="786" y="435" width="1" height="15" fill="#ef5350"/>
<rect x="785" y="436" width="3" height="9" fill="#ef5350"/>
<rect x="790" y="435" width="1" height="12" fill="#26a69a"/>
<rect x="789" y="436" width="3" height="9" fill="#26a69a"/>
<rect x="794" y="404" width="1" height="34" fill="#26a69a"/>
<rect x="793" y="409" width="3" height="28" fill="#26a69a"/>
<rect x="798" y="398" width="1" height="16" fill="#26a69a"/>
<rect x="797" y="406" width="3" height="4" fill="#26a69a"/>
<rect x="803" y="385" width="1" height="22" fill="#26a69a"/>
<rect x="802" y="391" width="3" height="16" fill="#26a69a"/>
<rect x="807" y="332" width="1" height="60" fill="#26a69a"/>
<rect x="806" y="336" width="3" height="56" fill="#26a69a"/>
<rect x="811" y="321" width="1" height="46" fill="#ef5350"/>
<rect x="810" y="336" width="3" height="11" fill="#ef5350"/>
<rect x="815" y="342" width="1" height="36" fill="#ef5350"/>
<rect x="814" y="346" width="3" height="30" fill="#ef5350"/>
<rect x="819" y="369" width="1" height="27" fill="#ef5350"/>
<rect x="818" y="375" width="3" height="10" fill="#ef5350"/>
<rect x="823" y="376" width="1" height="19" fill="#ef5350"/>
<rect x="822" y="384" width="3" height="7" fill="#ef5350"/>
<rect x="827" y="387" width="1" height="6" fill="#ef5350"/>
<rect x="826" y="390" width="3" height="2" fill="#ef5350"/>
<rect x="832" y="387" width="1" height="14" fill="#ef5350"/>
<rect x="831" y="391" width="3" height="4" fill="#ef5350"/>
<rect x="836" y="387" width="1" height="16" fill="#ef5350"/>
<rect x="835" y="394" width="3" height="6" fill="#ef5350"/>
<rect x="840" y="371" width="1" height="29" fill="#26a69a"/>
<rect x="839" y="375" width="3" height="25" fill="#26a69a"/>
<rect x="844" y="369" width="1" height="17" fill="#ef5350"/>
<rect x="843" y="375" width="3" height="7" fill="#ef5350"/>
<rect x="848" y="380" width="1" height="19" fill="#ef5350"/>
<rect x="847" y="381" width="3" height="15" fill="#ef5350"/>
<rect x="852" y="392" width="1" height="13" fill="#ef5350"/>
<rect x="851" y="393" width="3" height="4" fill="#ef5350"/>
<rect x="856" y="392" width="1" height="7" fill="#ef5350"/>
<rect x="855" y="396" width="3" height="1" fill="#ef5350"/>
<rect x="861" y="396" width="1" height="17" fill="#ef5350"/>
<rect x="860" y="397" width="3" height="16" fill="#ef5350"/>
<rect x="865" y="404" width="1" height="39" fill="#ef5350"/>
<rect x="864" y="412" width="3" height="2" fill="#ef5350"/>
<rect x="869" y="412" width="1" height="26" fill="#ef5350"/>
<rect x="868" y="413" width="3" height="21" fill="#ef5350"/>
<rect x="873" y="412" width="1" height="26" fill="#26a69a"/>
<rect x="872" y="421" width="3" height="13" fill="#26a69a"/>
<rect x="877" y="417" width="1" height="14" fill="#ef5350"/>
<rect x="876" y="421" width="3" height="6" fill="#ef5350"/>
<rect x="881" y="418" width="1" height="16" fill="#ef5350"/>
<rect x="880" y="426" width="3" height="1" fill="#ef5350"/>
<rect x="885" y="426" width="1" height="3" fill="#ef5350"/>
<rect x="884" y="427" width="3" height="2" fill="#ef5350"/>
<rect x="890" y="428" width="1" height="22" fill="#ef5350"/>
<rect x="889" y="428" width="3" height="18" fill="#ef5350"/>
<rect x="894" y="422" width="1" height="24" fill="#26a69a"/>
<rect x="893" y="431" width="3" height="15" fill="#26a69a"/>
<rect x="898" y="425" width="1" height="12" fill="#26a69a"/>
<rect x="897" y="428" width="3" height="4" fill="#26a69a"/>
<rect x="902" y="422" width="1" height="11" fill="#ef5350"/>
<rect x="901" y="428" width="3" height="1" fill="#ef5350"/>
<rect x="906" y="429" width="1" height="28" fill="#ef5350"/>
<rect x="905" y="429" width="3" height="23" fill="#ef5350"/>
<rect x="910" y="450" width="1" height="22" fill="#ef5350"/>
<rect x="909" y="451" width="3" height="17" fill="#ef5350"/>
<rect x="915" y="462" width="1" height="54" fill="#ef5350"/>
<rect x="914" y="466" width="3" height="20" fill="#ef5350"/>
<rect x="919" y="478" width="1" height="27" fill="#ef5350"/>
<rect x="918" y="485" width="3" height="13" fill="#ef5350"/>
<rect x="923" y="483" width="1" height="27" fill="#26a69a"/>
<rect x="922" y="491" width="3" height="7" fill="#26a69a"/>
<rect x="927" y="488" width="1" height="23" fill="#ef5350"/>
<rect x="926" y="491" width="3" height="10" fill="#ef5350"/>
<rect x="931" y="493" width="1" height="25" fill="#ef5350"/>
<rect x="930" y="500" width="3" height="15" fill="#ef5350"/>
<rect x="935" y="513" width="1" height="81" fill="#ef5350"/>
<rect x="934" y="514" width="3" height="64" fill="#ef5350"/>
<rect x="939" y="507" width="1" height="91" fill="#26a69a"/>
<rect x="938" y="523" width="3" height="55" fill="#26a69a"/>
<rect x="944" y="519" width="1" height="22" fill="#ef5350"/>
<rect x="943" y="523" width="3" height="11" fill="#ef5350"/>
<rect x="948" y="523" width="1" height="13" fill="#26a69a"/>
<rect x="947" y="531" width="3" height="3" fill="#26a69a"/>
<rect x="952" y="524" width="1" height="20" fill="#26a69a"/>
<rect x="951" y="530" width="3" height="2" fill="#26a69a"/>
<rect x="956" y="526" width="1" height="14" fill="#ef5350"/>
<rect x="955" y="530" width="3" height="9" fill="#ef5350"/>
<rect x="960" y="533" width="1" height="17" fill="#ef5350"/>
<rect x="959" y="538" width="3" height="7" fill="#ef5350"/>
<rect x="964" y="536" width="1" height="13" fill="#ef5350"/>
<rect x="963" y="544" width="3" height="3" fill="#ef5350"/>
<rect x="968" y="532" width="1" height="17" fill="#26a69a"/>
<rect x="967" y="536" width="3" height="11" fill="#26a69a"/>
<rect x="973" y="514" width="1" height="23" fill="#26a69a"/>
<rect x="972" y="515" width="3" height="22" fill="#26a69a"/>
<rect x="977" y="480" width="1" height="48" fill="#ef5350"/>
<rect x="976" y="515" width="3" height="8" fill="#ef5350"/>
<rect x="981" y="513" width="1" height="14" fill="#26a69a"/>
<rect x="980" y="519" width="3" height="4" fill="#26a69a"/>
<rect x="985" y="518" width="1" height="14" fill="#ef5350"/>
<rect x="984" y="519" width="3" height="4" fill="#ef5350"/>
<rect x="989" y="518" width="1" height="18" fill="#ef5350"/>
<rect x="988" y="522" width="3" height="12" fill="#ef5350"/>
<rect x="993" y="530" width="1" height="12" fill="#ef5350"/>
<rect x="992" y="533" width="3" height="4" fill="#ef5350"/>
<rect x="997" y="530" width="1" height="13" fill="#26a69a"/>
<rect x="996" y="532" width="3" height="5" fill="#26a69a"/>
<rect x="1002" y="524" width="1" height="10" fill="#26a69a"/>
<rect x="1001" y="531" width="3" height="1" fill="#26a69a"/>
<rect x="1006" y="530" width="1" height="12" fill="#ef5350"/>
<rect x="1005" y="531" width="3" height="9" fill="#ef5350"/>
<rect x="1010" y="532" width="1" height="21" fill="#ef5350"/>
<rect x="1009" y="539" width="3" height="10" fill="#ef5350"/>
<rect x="1014" y="545" width="1" height="11" fill="#ef5350"/>
<rect x="1013" y="548" width="3" height="1" fill="#ef5350"/>
<rect x="1018" y="518" width="1" height="32" fill="#26a69a"/>
<rect x="1017" y="531" width="3" height="19" fill="#26a69a"/>
<rect x="1022" y="523" width="1" height="18" fill="#ef5350"/>
<rect x="1021" y="531" width="3" height="7" fill="#ef5350"/>
<rect x="1026" y="532" width="1" height="19" fill="#ef5350"/>
<rect x="1025" y="537" width="3" height="12" fill="#ef5350"/>
<rect x="1031" y="539" width="1" height="26" fill="#26a69a"/>
<rect x="1030" y="543" width="3" height="6" fill="#26a69a"/>
<rect x="1035" y="531" width="1" height="20" fill="#ef5350"/>
<rect x="1034" y="543" width="3" height="6" fill="#ef5350"/>
<rect x="1039" y="533" width="1" height="19" fill="#26a69a"/>
<rect x="1038" y="540" width="3" height="8" fill="#26a69a"/>
<rect x="1043" y="539" width="1" height="12" fill="#ef5350"/>
<rect x="1042" y="540" width="3" height="7" fill="#ef5350"/>
<rect x="1047" y="522" width="1" height="27" fill="#26a69a"/>
<rect x="1046" y="531" width="3" height="16" fill="#26a69a"/>
<rect x="1051" y="527" width="1" height="12" fill="#ef5350"/>
<rect x="1050" y="531" width="3" height="7" fill="#ef5350"/>
<rect x="1056" y="535" width="1" height="14" fill="#ef5350"/>
<rect x="1055" y="537" width="3" height="10" fill="#ef5350"/>
<rect x="1060" y="543" width="1" height="6" fill="#ef5350"/>
<rect x="1059" y="546" width="3" height="2" fill="#ef5350"/>
<rect x="1064" y="544" width="1" height="10" fill="#ef5350"/>
<rect x="1063" y="547" width="3" height="5" fill="#ef5350"/>
<rect x="1068" y="541" width="1" height="11" fill="#26a69a"/>
<rect x="1067" y="546" width="3" height="6" fill="#26a69a"/>
<rect x="1072" y="529" width="1" height="18" fill="#26a69a"/>
<rect x="1071" y="541" width="3" height="6" fill="#26a69a"/>
<rect x="1076" y="535" width="1" height="9" fill="#ef5350"/>
<rect x="1075" y="541" width="3" height="1" fill="#ef5350"/>
<rect x="1080" y="539" width="1" height="6" fill="#ef5350"/>
<rect x="1079" y="541" width="3" height="1" fill="#ef5350"/>
<rect x="1085" y="527" width="1" height="15" fill="#26a69a"/>
<rect x="1084" y="538" width="3" height="4" fill="#26a69a"/>
<rect x="1089" y="536" width="1" height="5" fill="#26a69a"/>
<rect x="1088" y="537" width="3" height="2" fill="#26a69a"/>
<rect x="1093" y="524" width="1" height="13" fill="#26a69a"/>
<rect x="1092" y="527" width="3" height="10" fill="#26a69a"/>
<rect x="1097" y="505" width="1" height="25" fill="#26a69a"/>
<rect x="1096" y="507" width="3" height="21" fill="#26a69a"/>
<rect x="1101" y="494" width="1" height="24" fill="#ef5350"/>
<rect x="1100" y="507" width="3" height="7" fill="#ef5350"/>
<rect x="1105" y="508" width="1" height="22" fill="#ef5350"/>
<rect x="1104" y="513" width="3" height="13" fill="#ef5350"/>
<rect x="1109" y="520" width="1" height="13" fill="#ef5350"/>
<rect x="1108" y="524" width="3" height="5" fill="#ef5350"/>
<rect x="1114" y="524" width="1" height="8" fill="#ef5350"/>
<rect x="1113" y="528" width="3" height="1" fill="#ef5350"/>
<rect x="1118" y="527" width="1" height="11" fill="#ef5350"/>
<rect x="1117" y="528" width="3" height="9" fill="#ef5350"/>
<rect x="1122" y="532" width="1" height="12" fill="#ef5350"/>
<rect x="1121" y="536" width="3" height="6" fill="#ef5350"/>
<rect x="1126" y="524" width="1" height="22" fill="#26a69a"/>
<rect x="1125" y="531" width="3" height="11" fill="#26a69a"/>
<rect x="1130" y="529" width="1" height="12" fill="#ef5350"/>
<rect x="1129" y="531" width="3" height="4" fill="#ef5350"/>
<rect x="1134" y="530" width="1" height="7" fill="#ef5350"/>
<rect x="1133" y="534" width="3" height="2" fill="#ef5350"/>
<rect x="1138" y="534" width="1" height="17" fill="#ef5350"/>
<rect x="1137" y="535" width="3" height="12" fill="#ef5350"/>
<rect x="1143" y="544" width="1" height="11" fill="#ef5350"/>
<rect x="1142" y="546" width="3" height="9" fill="#ef5350"/>
<rect x="1147" y="547" width="1" height="8" fill="#26a69a"/>
<rect x="1146" y="552" width="3" height="3" fill="#26a69a"/>
<rect x="1151" y="550" width="1" height="10" fill="#ef5350"/>
<rect x="1150" y="552" width="3" height="2" fill="#ef5350"/>
<rect x="1155" y="545" width="1" height="11" fill="#ef5350"/>
<rect x="1154" y="553" width="3" height="1" fill="#ef5350"/>
<rect x="1159" y="548" width="1" height="10" fill="#26a69a"/>
<rect x="1158" y="550" width="3" height="5" fill="#26a69a"/>
<rect x="1163" y="545" width="1" height="7" fill="#26a69a"/>
<rect x="1162" y="548" width="3" height="3" fill="#26a69a"/>
<rect x="1167" y="547" width="1" height="16" fill="#ef5350"/>
<rect x="1166" y="549" width="3" height="7" fill="#ef5350"/>
<rect x="1172" y="551" width="1" height="7" fill="#ef5350"/>
<rect x="1171" y="555" width="3" height="1" fill="#ef5350"/>
<rect x="1176" y="554" width="1" height="4" fill="#ef5350"/>
<rect x="1175" y="555" width="3" height="1" fill="#ef5350"/>
<rect x="1180" y="552" width="1" height="12" fill="#26a69a"/>
<rect x="1179" y="553" width="3" height="4" fill="#26a69a"/>
<rect x="1184" y="547" width="1" height="9" fill="#ef5350"/>
<rect x="1183" y="553" width="3" height="3" fill="#ef5350"/>
<rect x="1188" y="539" width="1" height="21" fill="#26a69a"/>
<rect x="1187" y="542" width="3" height="14" fill="#26a69a"/>
<rect x="1192" y="540" width="1" height="11" fill="#ef5350"/>
<rect x="1191" y="542" width="3" height="9" fill="#ef5350"/>
<rect x="1197" y="544" width="1" height="10" fill="#26a69a"/>
<rect x="1196" y="550" width="3" height="1" fill="#26a69a"/>
<rect x="1201" y="546" width="1" height="6" fill="#26a69a"/>
<rect x="1200" y="548" width="3" height="2" fill="#26a69a"/>
</g>
<line x1="10" y1="548.5" x2="1286" y2="548.5" stroke="#26a69a" stroke-width="1" stroke-dasharray="1 2" shape-rendering="crispEdges"/>
</g>
<text y="648.8" font-size="12.3" fill="#131722" xml:space="preserve"><tspan x="18.5" textLength="15.0" lengthAdjust="spacingAndGlyphs" stroke="#131722" stroke-width="0.25">RSI</tspan> <tspan x="39.0" textLength="19.1" lengthAdjust="spacingAndGlyphs" stroke="#131722" stroke-width="0.25">(14,</tspan> <tspan x="62.4" textLength="30.0" lengthAdjust="spacingAndGlyphs" stroke="#131722" stroke-width="0.25">close)</tspan> <tspan x="102.1" textLength="29.0" lengthAdjust="spacingAndGlyphs" fill="#7e57c2" stroke="#7e57c2" stroke-width="0.25">47.59</tspan> <tspan x="138.6" textLength="28.9" lengthAdjust="spacingAndGlyphs" fill="#fdd835" stroke="#fdd835" stroke-width="0.25">42.22</tspan></text>
<g clip-path="url(#cr)">
<rect x="10" y="687" width="1276" height="101" fill="rgba(126,87,194,0.1)"/>
<line x1="10" y1="687.5" x2="1286" y2="687.5" stroke="#787b86" stroke-width="1" stroke-dasharray="5 6" shape-rendering="crispEdges"/>
<line x1="10" y1="737.5" x2="1286" y2="737.5" stroke="rgba(120,123,134,0.5)" stroke-width="1" stroke-dasharray="5 6" shape-rendering="crispEdges"/>
<line x1="10" y1="787.5" x2="1286" y2="787.5" stroke="#787b86" stroke-width="1" stroke-dasharray="5 6" shape-rendering="crispEdges"/>
<polygon points="10.5,687.1 10.5,744.3 15.5,735.9 19.5,730.8 23.5,725.4 27.5,739.7 31.5,727.9 35.5,723.2 39.5,731.3 44.5,732.0 48.5,721.0 52.5,720.7 56.5,713.6 60.5,697.9 64.5,678.9 68.5,664.9 73.5,664.4 77.5,658.2 81.5,651.9 85.5,662.1 89.5,653.1 93.5,639.1 98.5,651.9 102.5,651.9 106.5,650.6 110.5,647.5 114.5,647.5 118.5,704.6 122.5,709.7 127.5,710.0 131.5,707.7 135.5,701.2 139.5,717.8 143.5,717.3 147.5,721.5 151.5,731.3 156.5,738.7 160.5,760.7 164.5,738.4 168.5,725.7 172.5,738.0 176.5,734.7 180.5,706.6 185.5,710.0 189.5,716.8 193.5,721.5 197.5,729.1 201.5,715.6 205.5,714.7 209.5,737.5 214.5,737.5 218.5,733.8 222.5,735.9 226.5,738.7 230.5,760.6 234.5,749.3 239.5,758.9 243.5,733.6 247.5,736.1 251.5,739.1 255.5,755.0 259.5,738.1 263.5,742.0 268.5,742.5 272.5,756.4 276.5,756.7 280.5,760.6 284.5,762.8 288.5,748.3 292.5,750.5 297.5,755.5 301.5,753.0 305.5,753.3 309.5,742.0 313.5,729.3 317.5,732.4 321.5,727.7 326.5,720.9 330.5,711.6 334.5,709.9 338.5,726.3 342.5,731.9 346.5,725.1 350.5,718.4 355.5,720.6 359.5,736.1 363.5,739.1 367.5,739.8 371.5,758.9 375.5,763.1 380.5,743.2 384.5,767.3 388.5,760.6 392.5,756.0 396.5,745.4 400.5,743.2 404.5,748.3 409.5,732.7 413.5,718.4 417.5,718.4 421.5,731.4 425.5,731.4 429.5,727.7 433.5,750.5 438.5,746.2 442.5,758.1 446.5,796.6 450.5,794.9 454.5,771.6 458.5,760.6 462.5,769.9 467.5,776.6 471.5,783.0 475.5,785.9 479.5,774.6 483.5,769.9 487.5,755.0 492.5,761.4 496.5,767.8 500.5,763.1 504.5,746.2 508.5,736.1 512.5,729.7 516.5,731.9 521.5,735.8 525.5,743.7 529.5,756.7 533.5,746.2 537.5,746.2 541.5,743.2 545.5,769.0 550.5,778.3 554.5,757.2 558.5,769.5 562.5,755.5 566.5,758.1 570.5,747.9 574.5,729.7 579.5,743.7 583.5,744.5 587.5,751.3 591.5,758.9 595.5,759.7 599.5,762.3 603.5,766.5 608.5,758.9 612.5,769.0 616.5,779.2 620.5,783.4 624.5,783.4 628.5,761.4 633.5,740.8 637.5,743.2 641.5,740.8 645.5,743.7 649.5,746.2 653.5,743.2 657.5,750.5 662.5,765.1 666.5,746.2 670.5,739.4 674.5,752.0 678.5,759.3 682.5,759.6 686.5,757.6 691.5,752.9 695.5,746.5 699.5,755.4 703.5,756.6 707.5,760.5 711.5,757.1 715.5,765.5 720.5,775.7 724.5,767.2 728.5,775.7 732.5,784.1 736.5,760.0 740.5,755.4 744.5,757.1 749.5,759.6 753.5,765.0 757.5,766.7 761.5,771.4 765.5,768.9 769.5,760.0 774.5,761.0 778.5,763.3 782.5,756.3 786.5,763.3 790.5,752.0 794.5,721.6 798.5,719.1 803.5,705.6 807.5,675.5 811.5,685.3 815.5,714.0 819.5,721.1 823.5,725.9 827.5,726.7 832.5,729.2 836.5,734.0 840.5,715.4 844.5,719.1 848.5,732.6 852.5,734.3 856.5,735.7 861.5,748.7 865.5,749.8 869.5,766.4 873.5,753.2 877.5,756.6 881.5,757.1 885.5,757.9 890.5,772.4 894.5,755.0 898.5,752.1 902.5,753.0 906.5,769.9 910.5,780.3 915.5,789.3 919.5,796.9 923.5,788.8 927.5,793.5 931.5,801.1 935.5,820.5 939.5,772.9 944.5,776.3 948.5,775.3 952.5,774.1 956.5,778.0 960.5,780.9 964.5,781.7 968.5,771.9 973.5,753.3 977.5,757.7 981.5,755.0 985.5,757.2 989.5,764.5 993.5,766.5 997.5,761.4 1002.5,761.1 1006.5,767.3 1010.5,773.6 1014.5,774.6 1018.5,751.3 1022.5,757.2 1026.5,765.1 1031.5,760.6 1035.5,764.5 1039.5,754.3 1043.5,759.7 1047.5,742.0 1051.5,748.8 1056.5,755.5 1060.5,757.2 1064.5,760.6 1068.5,753.3 1072.5,747.1 1076.5,747.6 1080.5,747.6 1085.5,743.2 1089.5,740.3 1093.5,726.0 1097.5,702.7 1101.5,712.1 1105.5,728.5 1109.5,733.6 1114.5,734.4 1118.5,745.4 1122.5,751.6 1126.5,736.4 1130.5,740.8 1134.5,741.5 1138.5,756.4 1143.5,765.7 1147.5,763.1 1151.5,764.5 1155.5,765.7 1159.5,757.7 1163.5,754.7 1167.5,764.0 1172.5,764.5 1176.5,765.7 1180.5,759.7 1184.5,761.1 1188.5,732.7 1192.5,747.6 1197.5,747.1 1201.5,742.9 1201.5,687.1" fill="url(#gg)" clip-path="url(#c70)"/>
<polygon points="10.5,788.0 10.5,744.3 15.5,735.9 19.5,730.8 23.5,725.4 27.5,739.7 31.5,727.9 35.5,723.2 39.5,731.3 44.5,732.0 48.5,721.0 52.5,720.7 56.5,713.6 60.5,697.9 64.5,678.9 68.5,664.9 73.5,664.4 77.5,658.2 81.5,651.9 85.5,662.1 89.5,653.1 93.5,639.1 98.5,651.9 102.5,651.9 106.5,650.6 110.5,647.5 114.5,647.5 118.5,704.6 122.5,709.7 127.5,710.0 131.5,707.7 135.5,701.2 139.5,717.8 143.5,717.3 147.5,721.5 151.5,731.3 156.5,738.7 160.5,760.7 164.5,738.4 168.5,725.7 172.5,738.0 176.5,734.7 180.5,706.6 185.5,710.0 189.5,716.8 193.5,721.5 197.5,729.1 201.5,715.6 205.5,714.7 209.5,737.5 214.5,737.5 218.5,733.8 222.5,735.9 226.5,738.7 230.5,760.6 234.5,749.3 239.5,758.9 243.5,733.6 247.5,736.1 251.5,739.1 255.5,755.0 259.5,738.1 263.5,742.0 268.5,742.5 272.5,756.4 276.5,756.7 280.5,760.6 284.5,762.8 288.5,748.3 292.5,750.5 297.5,755.5 301.5,753.0 305.5,753.3 309.5,742.0 313.5,729.3 317.5,732.4 321.5,727.7 326.5,720.9 330.5,711.6 334.5,709.9 338.5,726.3 342.5,731.9 346.5,725.1 350.5,718.4 355.5,720.6 359.5,736.1 363.5,739.1 367.5,739.8 371.5,758.9 375.5,763.1 380.5,743.2 384.5,767.3 388.5,760.6 392.5,756.0 396.5,745.4 400.5,743.2 404.5,748.3 409.5,732.7 413.5,718.4 417.5,718.4 421.5,731.4 425.5,731.4 429.5,727.7 433.5,750.5 438.5,746.2 442.5,758.1 446.5,796.6 450.5,794.9 454.5,771.6 458.5,760.6 462.5,769.9 467.5,776.6 471.5,783.0 475.5,785.9 479.5,774.6 483.5,769.9 487.5,755.0 492.5,761.4 496.5,767.8 500.5,763.1 504.5,746.2 508.5,736.1 512.5,729.7 516.5,731.9 521.5,735.8 525.5,743.7 529.5,756.7 533.5,746.2 537.5,746.2 541.5,743.2 545.5,769.0 550.5,778.3 554.5,757.2 558.5,769.5 562.5,755.5 566.5,758.1 570.5,747.9 574.5,729.7 579.5,743.7 583.5,744.5 587.5,751.3 591.5,758.9 595.5,759.7 599.5,762.3 603.5,766.5 608.5,758.9 612.5,769.0 616.5,779.2 620.5,783.4 624.5,783.4 628.5,761.4 633.5,740.8 637.5,743.2 641.5,740.8 645.5,743.7 649.5,746.2 653.5,743.2 657.5,750.5 662.5,765.1 666.5,746.2 670.5,739.4 674.5,752.0 678.5,759.3 682.5,759.6 686.5,757.6 691.5,752.9 695.5,746.5 699.5,755.4 703.5,756.6 707.5,760.5 711.5,757.1 715.5,765.5 720.5,775.7 724.5,767.2 728.5,775.7 732.5,784.1 736.5,760.0 740.5,755.4 744.5,757.1 749.5,759.6 753.5,765.0 757.5,766.7 761.5,771.4 765.5,768.9 769.5,760.0 774.5,761.0 778.5,763.3 782.5,756.3 786.5,763.3 790.5,752.0 794.5,721.6 798.5,719.1 803.5,705.6 807.5,675.5 811.5,685.3 815.5,714.0 819.5,721.1 823.5,725.9 827.5,726.7 832.5,729.2 836.5,734.0 840.5,715.4 844.5,719.1 848.5,732.6 852.5,734.3 856.5,735.7 861.5,748.7 865.5,749.8 869.5,766.4 873.5,753.2 877.5,756.6 881.5,757.1 885.5,757.9 890.5,772.4 894.5,755.0 898.5,752.1 902.5,753.0 906.5,769.9 910.5,780.3 915.5,789.3 919.5,796.9 923.5,788.8 927.5,793.5 931.5,801.1 935.5,820.5 939.5,772.9 944.5,776.3 948.5,775.3 952.5,774.1 956.5,778.0 960.5,780.9 964.5,781.7 968.5,771.9 973.5,753.3 977.5,757.7 981.5,755.0 985.5,757.2 989.5,764.5 993.5,766.5 997.5,761.4 1002.5,761.1 1006.5,767.3 1010.5,773.6 1014.5,774.6 1018.5,751.3 1022.5,757.2 1026.5,765.1 1031.5,760.6 1035.5,764.5 1039.5,754.3 1043.5,759.7 1047.5,742.0 1051.5,748.8 1056.5,755.5 1060.5,757.2 1064.5,760.6 1068.5,753.3 1072.5,747.1 1076.5,747.6 1080.5,747.6 1085.5,743.2 1089.5,740.3 1093.5,726.0 1097.5,702.7 1101.5,712.1 1105.5,728.5 1109.5,733.6 1114.5,734.4 1118.5,745.4 1122.5,751.6 1126.5,736.4 1130.5,740.8 1134.5,741.5 1138.5,756.4 1143.5,765.7 1147.5,763.1 1151.5,764.5 1155.5,765.7 1159.5,757.7 1163.5,754.7 1167.5,764.0 1172.5,764.5 1176.5,765.7 1180.5,759.7 1184.5,761.1 1188.5,732.7 1192.5,747.6 1197.5,747.1 1201.5,742.9 1201.5,788.0" fill="url(#gr)" clip-path="url(#c30)"/>
<polyline points="10.5,750.2 15.5,748.9 19.5,747.8 23.5,746.7 27.5,745.5 31.5,743.6 35.5,741.6 39.5,739.7 44.5,737.2 48.5,734.9 52.5,732.6 56.5,730.4 60.5,726.8 64.5,723.0 68.5,717.4 73.5,712.3 77.5,707.1 81.5,701.8 85.5,696.3 89.5,690.9 93.5,684.9 98.5,679.3 102.5,673.5 106.5,668.5 110.5,663.3 114.5,658.6 118.5,659.1 122.5,661.2 127.5,664.5 131.5,667.6 135.5,670.6 139.5,675.3 143.5,679.3 147.5,684.2 151.5,690.8 156.5,697.0 160.5,704.7 164.5,711.0 168.5,716.6 172.5,723.0 176.5,725.2 180.5,725.0 185.5,725.0 189.5,725.6 193.5,727.1 197.5,727.9 201.5,727.8 205.5,727.3 209.5,727.7 214.5,727.6 218.5,725.7 222.5,725.5 226.5,726.5 230.5,728.1 234.5,729.1 239.5,732.9 243.5,734.5 247.5,735.9 251.5,737.2 255.5,739.0 259.5,740.6 263.5,742.6 268.5,742.9 272.5,744.3 276.5,745.9 280.5,747.7 284.5,749.4 288.5,748.5 292.5,748.6 297.5,748.4 301.5,749.8 305.5,751.0 309.5,751.2 313.5,749.4 317.5,748.9 321.5,747.9 326.5,746.4 330.5,743.2 334.5,739.8 338.5,737.4 342.5,735.2 346.5,733.5 350.5,731.2 355.5,728.7 359.5,727.5 363.5,726.5 367.5,726.4 371.5,728.5 375.5,730.7 380.5,731.8 384.5,735.1 388.5,738.6 392.5,741.9 396.5,743.3 400.5,744.1 404.5,745.7 409.5,746.7 413.5,746.6 417.5,745.3 421.5,744.8 425.5,744.2 429.5,741.9 433.5,741.0 438.5,741.2 442.5,740.6 446.5,743.1 450.5,745.9 454.5,747.8 458.5,749.0 462.5,750.6 467.5,753.7 471.5,758.3 475.5,763.2 479.5,766.2 483.5,769.0 487.5,770.9 492.5,771.7 496.5,773.3 500.5,773.6 504.5,770.0 508.5,765.8 512.5,762.9 516.5,760.8 521.5,758.4 525.5,756.0 529.5,754.1 533.5,751.3 537.5,749.3 541.5,747.4 545.5,748.4 550.5,749.6 554.5,748.8 558.5,749.3 562.5,749.9 566.5,751.5 570.5,752.8 574.5,752.7 579.5,753.2 583.5,753.3 587.5,752.9 591.5,753.8 595.5,754.8 599.5,756.1 603.5,755.9 608.5,754.6 612.5,755.4 616.5,756.1 620.5,758.1 624.5,759.9 628.5,760.9 633.5,761.6 637.5,761.6 641.5,761.3 645.5,760.8 649.5,759.9 653.5,758.7 657.5,757.9 662.5,757.8 666.5,756.9 670.5,754.8 674.5,752.8 678.5,751.1 682.5,749.4 686.5,749.1 691.5,750.0 695.5,750.2 699.5,751.3 703.5,752.2 707.5,753.2 711.5,754.2 715.5,755.3 720.5,756.0 724.5,757.5 728.5,760.1 732.5,762.4 736.5,762.5 740.5,762.1 744.5,762.1 749.5,762.6 753.5,763.9 757.5,764.7 761.5,765.8 765.5,766.4 769.5,766.6 774.5,766.3 778.5,765.4 782.5,764.6 786.5,763.7 790.5,761.4 794.5,758.7 798.5,756.1 803.5,752.4 807.5,746.4 811.5,740.7 815.5,737.0 819.5,733.4 823.5,730.3 827.5,727.9 832.5,725.7 836.5,723.6 840.5,720.6 844.5,717.5 848.5,716.1 852.5,717.0 856.5,718.2 861.5,721.2 865.5,726.6 869.5,732.3 873.5,735.1 877.5,737.7 881.5,739.9 885.5,742.1 890.5,745.2 894.5,746.7 898.5,749.4 902.5,751.8 906.5,754.4 910.5,757.7 915.5,761.6 919.5,765.0 923.5,767.8 927.5,769.7 931.5,773.1 935.5,777.7 939.5,778.8 944.5,780.2 948.5,780.4 952.5,781.7 956.5,783.6 960.5,785.6 964.5,786.4 968.5,785.8 973.5,783.2 977.5,780.4 981.5,778.0 985.5,775.4 989.5,772.8 993.5,768.9 997.5,768.1 1002.5,767.0 1006.5,766.5 1010.5,766.4 1014.5,766.2 1018.5,764.1 1022.5,762.3 1026.5,761.9 1031.5,762.4 1035.5,762.9 1039.5,762.8 1043.5,763.0 1047.5,761.4 1051.5,760.1 1056.5,759.7 1060.5,759.4 1064.5,758.9 1068.5,757.5 1072.5,755.5 1076.5,755.3 1080.5,754.6 1085.5,753.0 1089.5,751.6 1093.5,748.8 1097.5,745.1 1101.5,741.7 1105.5,740.7 1109.5,739.7 1114.5,738.2 1118.5,737.3 1122.5,736.7 1126.5,735.5 1130.5,735.0 1134.5,734.6 1138.5,735.2 1143.5,736.8 1147.5,738.4 1151.5,741.2 1155.5,745.7 1159.5,748.9 1163.5,750.8 1167.5,753.0 1172.5,755.1 1176.5,756.6 1180.5,757.2 1184.5,758.9 1188.5,758.3 1192.5,758.8 1197.5,758.1 1201.5,756.5" fill="none" stroke="#fdd835" stroke-width="1.1" stroke-linejoin="round"/>
<polyline points="10.5,744.3 15.5,735.9 19.5,730.8 23.5,725.4 27.5,739.7 31.5,727.9 35.5,723.2 39.5,731.3 44.5,732.0 48.5,721.0 52.5,720.7 56.5,713.6 60.5,697.9 64.5,678.9 68.5,664.9 73.5,664.4 77.5,658.2 81.5,651.9 85.5,662.1 89.5,653.1 93.5,639.1 98.5,651.9 102.5,651.9 106.5,650.6 110.5,647.5 114.5,647.5 118.5,704.6 122.5,709.7 127.5,710.0 131.5,707.7 135.5,701.2 139.5,717.8 143.5,717.3 147.5,721.5 151.5,731.3 156.5,738.7 160.5,760.7 164.5,738.4 168.5,725.7 172.5,738.0 176.5,734.7 180.5,706.6 185.5,710.0 189.5,716.8 193.5,721.5 197.5,729.1 201.5,715.6 205.5,714.7 209.5,737.5 214.5,737.5 218.5,733.8 222.5,735.9 226.5,738.7 230.5,760.6 234.5,749.3 239.5,758.9 243.5,733.6 247.5,736.1 251.5,739.1 255.5,755.0 259.5,738.1 263.5,742.0 268.5,742.5 272.5,756.4 276.5,756.7 280.5,760.6 284.5,762.8 288.5,748.3 292.5,750.5 297.5,755.5 301.5,753.0 305.5,753.3 309.5,742.0 313.5,729.3 317.5,732.4 321.5,727.7 326.5,720.9 330.5,711.6 334.5,709.9 338.5,726.3 342.5,731.9 346.5,725.1 350.5,718.4 355.5,720.6 359.5,736.1 363.5,739.1 367.5,739.8 371.5,758.9 375.5,763.1 380.5,743.2 384.5,767.3 388.5,760.6 392.5,756.0 396.5,745.4 400.5,743.2 404.5,748.3 409.5,732.7 413.5,718.4 417.5,718.4 421.5,731.4 425.5,731.4 429.5,727.7 433.5,750.5 438.5,746.2 442.5,758.1 446.5,796.6 450.5,794.9 454.5,771.6 458.5,760.6 462.5,769.9 467.5,776.6 471.5,783.0 475.5,785.9 479.5,774.6 483.5,769.9 487.5,755.0 492.5,761.4 496.5,767.8 500.5,763.1 504.5,746.2 508.5,736.1 512.5,729.7 516.5,731.9 521.5,735.8 525.5,743.7 529.5,756.7 533.5,746.2 537.5,746.2 541.5,743.2 545.5,769.0 550.5,778.3 554.5,757.2 558.5,769.5 562.5,755.5 566.5,758.1 570.5,747.9 574.5,729.7 579.5,743.7 583.5,744.5 587.5,751.3 591.5,758.9 595.5,759.7 599.5,762.3 603.5,766.5 608.5,758.9 612.5,769.0 616.5,779.2 620.5,783.4 624.5,783.4 628.5,761.4 633.5,740.8 637.5,743.2 641.5,740.8 645.5,743.7 649.5,746.2 653.5,743.2 657.5,750.5 662.5,765.1 666.5,746.2 670.5,739.4 674.5,752.0 678.5,759.3 682.5,759.6 686.5,757.6 691.5,752.9 695.5,746.5 699.5,755.4 703.5,756.6 707.5,760.5 711.5,757.1 715.5,765.5 720.5,775.7 724.5,767.2 728.5,775.7 732.5,784.1 736.5,760.0 740.5,755.4 744.5,757.1 749.5,759.6 753.5,765.0 757.5,766.7 761.5,771.4 765.5,768.9 769.5,760.0 774.5,761.0 778.5,763.3 782.5,756.3 786.5,763.3 790.5,752.0 794.5,721.6 798.5,719.1 803.5,705.6 807.5,675.5 811.5,685.3 815.5,714.0 819.5,721.1 823.5,725.9 827.5,726.7 832.5,729.2 836.5,734.0 840.5,715.4 844.5,719.1 848.5,732.6 852.5,734.3 856.5,735.7 861.5,748.7 865.5,749.8 869.5,766.4 873.5,753.2 877.5,756.6 881.5,757.1 885.5,757.9 890.5,772.4 894.5,755.0 898.5,752.1 902.5,753.0 906.5,769.9 910.5,780.3 915.5,789.3 919.5,796.9 923.5,788.8 927.5,793.5 931.5,801.1 935.5,820.5 939.5,772.9 944.5,776.3 948.5,775.3 952.5,774.1 956.5,778.0 960.5,780.9 964.5,781.7 968.5,771.9 973.5,753.3 977.5,757.7 981.5,755.0 985.5,757.2 989.5,764.5 993.5,766.5 997.5,761.4 1002.5,761.1 1006.5,767.3 1010.5,773.6 1014.5,774.6 1018.5,751.3 1022.5,757.2 1026.5,765.1 1031.5,760.6 1035.5,764.5 1039.5,754.3 1043.5,759.7 1047.5,742.0 1051.5,748.8 1056.5,755.5 1060.5,757.2 1064.5,760.6 1068.5,753.3 1072.5,747.1 1076.5,747.6 1080.5,747.6 1085.5,743.2 1089.5,740.3 1093.5,726.0 1097.5,702.7 1101.5,712.1 1105.5,728.5 1109.5,733.6 1114.5,734.4 1118.5,745.4 1122.5,751.6 1126.5,736.4 1130.5,740.8 1134.5,741.5 1138.5,756.4 1143.5,765.7 1147.5,763.1 1151.5,764.5 1155.5,765.7 1159.5,757.7 1163.5,754.7 1167.5,764.0 1172.5,764.5 1176.5,765.7 1180.5,759.7 1184.5,761.1 1188.5,732.7 1192.5,747.6 1197.5,747.1 1201.5,742.9" fill="none" stroke="#7e57c2" stroke-width="2.8" stroke-linejoin="round" stroke-linecap="round"/>
</g>
<g shape-rendering="crispEdges" fill="#dfe1e7">
<rect x="11" y="629" width="1341" height="1"/>
<rect x="11" y="831" width="1341" height="1"/>
<rect x="1286" y="28" width="1" height="831"/>
</g>
<path d="M977.8,318.4 H1066.8 Q1073.8,318.4 1073.8,325.4 V344.4 Q1073.8,351.4 1066.8,351.4 H979.5 L943.2,356.4 L970.8,343.2 V325.4 Q970.8,318.4 977.8,318.4 Z" fill="none" stroke="#9c2b2e" stroke-width="1.4" stroke-linejoin="miter"/>
<text y="339.2" font-size="12.3" fill="#9c2b2e" xml:space="preserve"><tspan x="981.7" textLength="56.5" lengthAdjust="spacingAndGlyphs" stroke="#9c2b2e" stroke-width="0.2">Downtrend</tspan> <tspan x="1043.8" textLength="19.6" lengthAdjust="spacingAndGlyphs" stroke="#9c2b2e" stroke-width="0.2">line</tspan></text>
<path d="M783,541.6 H811 L856.4,526.8 L826,541.6 H855.2 Q862.2,541.6 862.2,548.6 V567.6 Q862.2,574.6 855.2,574.6 H783 Q776,574.6 776,567.6 V548.6 Q776,541.6 783,541.6 Z" fill="none" stroke="#9c2b2e" stroke-width="1.4" stroke-linejoin="miter"/>
<text y="561.8" font-size="12.3" fill="#9c2b2e" xml:space="preserve"><tspan x="786.8" textLength="40.8" lengthAdjust="spacingAndGlyphs" stroke="#9c2b2e" stroke-width="0.2">Support</tspan> <tspan x="832.3" textLength="19.4" lengthAdjust="spacingAndGlyphs" stroke="#9c2b2e" stroke-width="0.2">line</tspan></text>
<g>
<circle cx="1201.6" cy="616.4" r="11.3" fill="#fff"/>
<circle cx="1201.6" cy="616.4" r="9.9" fill="#fff" stroke="#9c27b0" stroke-width="1.6"/>
<path d="M1204.0,610.4 L1197.0,617.1 H1201.2 L1198.4,622.4 L1205.8,615.9 H1201.6 Z" fill="#9c27b0"/>
<circle cx="1208.4" cy="609.6" r="4.2" fill="#fff"/>
<circle cx="1208.4" cy="609.6" r="2.7" fill="#f23645"/>
</g>
<text y="19.0" font-size="13" fill="#131722" xml:space="preserve"><tspan x="10.5" textLength="59.0" lengthAdjust="spacingAndGlyphs" stroke="#131722" stroke-width="0.25">ranadagger</tspan> <tspan x="73.9" textLength="40.5" lengthAdjust="spacingAndGlyphs" stroke="#131722" stroke-width="0.25">created</tspan> <tspan x="118.6" textLength="23.7" lengthAdjust="spacingAndGlyphs" stroke="#131722" stroke-width="0.25">with</tspan> <tspan x="146.7" textLength="90.6" lengthAdjust="spacingAndGlyphs" stroke="#131722" stroke-width="0.25">TradingView.com,</tspan> <tspan x="244.8" textLength="16.8" lengthAdjust="spacingAndGlyphs" stroke="#131722" stroke-width="0.25">Apr</tspan> <tspan x="267.2" textLength="14.7" lengthAdjust="spacingAndGlyphs" stroke="#131722" stroke-width="0.25">10,</tspan> <tspan x="288.0" textLength="23.3" lengthAdjust="spacingAndGlyphs" stroke="#131722" stroke-width="0.25">2026</tspan> <tspan x="317.1" textLength="28.2" lengthAdjust="spacingAndGlyphs" stroke="#131722" stroke-width="0.25">15:46</tspan> <tspan x="349.7" textLength="21.1" lengthAdjust="spacingAndGlyphs" stroke="#131722" stroke-width="0.25">UTC</tspan></text>
<text y="74.7" font-size="12.3" fill="#131722" xml:space="preserve"><tspan x="1295.5" textLength="35.1" lengthAdjust="spacingAndGlyphs" stroke="#131722" stroke-width="0.25">3.6000</tspan></text>
<text y="117.2" font-size="12.3" fill="#131722" xml:space="preserve"><tspan x="1295.5" textLength="35.1" lengthAdjust="spacingAndGlyphs" stroke="#131722" stroke-width="0.25">3.4000</tspan></text>
<text y="159.7" font-size="12.3" fill="#131722" xml:space="preserve"><tspan x="1295.5" textLength="35.1" lengthAdjust="spacingAndGlyphs" stroke="#131722" stroke-width="0.25">3.2000</tspan></text>
<text y="202.3" font-size="12.3" fill="#131722" xml:space="preserve"><tspan x="1295.5" textLength="35.1" lengthAdjust="spacingAndGlyphs" stroke="#131722" stroke-width="0.25">3.0000</tspan></text>
<text y="244.8" font-size="12.3" fill="#131722" xml:space="preserve"><tspan x="1295.5" textLength="35.1" lengthAdjust="spacingAndGlyphs" stroke="#131722" stroke-width="0.25">2.8000</tspan></text>
<text y="287.3" font-size="12.3" fill="#131722" xml:space="preserve"><tspan x="1295.5" textLength="35.1" lengthAdjust="spacingAndGlyphs" stroke="#131722" stroke-width="0.25">2.6000</tspan></text>
<text y="329.8" font-size="12.3" fill="#131722" xml:space="preserve"><tspan x="1295.5" textLength="35.1" lengthAdjust="spacingAndGlyphs" stroke="#131722" stroke-width="0.25">2.4000</tspan></text>
<text y="372.3" font-size="12.3" fill="#131722" xml:space="preserve"><tspan x="1295.5" textLength="35.1" lengthAdjust="spacingAndGlyphs" stroke="#131722" stroke-width="0.25">2.2000</tspan></text>
<text y="414.9" font-size="12.3" fill="#131722" xml:space="preserve"><tspan x="1295.5" textLength="35.1" lengthAdjust="spacingAndGlyphs" stroke="#131722" stroke-width="0.25">2.0000</tspan></text>
<text y="457.4" font-size="12.3" fill="#131722" xml:space="preserve"><tspan x="1295.5" textLength="35.1" lengthAdjust="spacingAndGlyphs" stroke="#131722" stroke-width="0.25">1.8000</tspan></text>
<text y="626.6" font-size="12.3" fill="#131722" xml:space="preserve"><tspan x="1295.5" textLength="35.1" lengthAdjust="spacingAndGlyphs" stroke="#131722" stroke-width="0.25">1.0000</tspan></text>
<text y="665.2" font-size="12.3" fill="#131722" xml:space="preserve"><tspan x="1295.3" textLength="29.2" lengthAdjust="spacingAndGlyphs" stroke="#131722" stroke-width="0.25">80.00</tspan></text>
<text y="715.7" font-size="12.3" fill="#131722" xml:space="preserve"><tspan x="1295.3" textLength="29.2" lengthAdjust="spacingAndGlyphs" stroke="#131722" stroke-width="0.25">60.00</tspan></text>
<text y="816.6" font-size="12.3" fill="#131722" xml:space="preserve"><tspan x="1295.3" textLength="29.2" lengthAdjust="spacingAndGlyphs" stroke="#131722" stroke-width="0.25">20.00</tspan></text>
<text y="848.5" font-size="12.3" fill="#131722" xml:space="preserve"><tspan x="19.0" textLength="16.2" lengthAdjust="spacingAndGlyphs" stroke="#131722" stroke-width="0.25">Jul</tspan></text>
<text y="848.5" font-size="12.3" fill="#131722" xml:space="preserve"><tspan x="145.7" textLength="20.0" lengthAdjust="spacingAndGlyphs" stroke="#131722" stroke-width="0.25">Aug</tspan></text>
<text y="848.5" font-size="12.3" fill="#131722" xml:space="preserve"><tspan x="274.9" textLength="19.4" lengthAdjust="spacingAndGlyphs" stroke="#131722" stroke-width="0.25">Sep</tspan></text>
<text y="848.5" font-size="12.3" fill="#131722" xml:space="preserve"><tspan x="399.3" textLength="19.4" lengthAdjust="spacingAndGlyphs" stroke="#131722" stroke-width="0.25">Oct</tspan></text>
<text y="848.5" font-size="12.3" fill="#131722" xml:space="preserve"><tspan x="527.5" textLength="20.0" lengthAdjust="spacingAndGlyphs" stroke="#131722" stroke-width="0.25">Nov</tspan></text>
<text y="848.5" font-size="12.3" fill="#131722" xml:space="preserve"><tspan x="651.9" textLength="19.3" lengthAdjust="spacingAndGlyphs" stroke="#131722" stroke-width="0.25">Dec</tspan></text>
<text y="848.5" font-size="12.3" fill="#131722" xml:space="preserve"><tspan x="909.2" textLength="19.4" lengthAdjust="spacingAndGlyphs" stroke="#131722" stroke-width="0.25">Feb</tspan></text>
<text y="848.5" font-size="12.3" fill="#131722" xml:space="preserve"><tspan x="1025.0" textLength="19.4" lengthAdjust="spacingAndGlyphs" stroke="#131722" stroke-width="0.25">Mar</tspan></text>
<text y="848.5" font-size="12.3" fill="#131722" xml:space="preserve"><tspan x="1154.3" textLength="18.7" lengthAdjust="spacingAndGlyphs" stroke="#131722" stroke-width="0.25">Apr</tspan></text>
<text y="848.5" font-size="12.3" fill="#131722" font-weight="bold" xml:space="preserve"><tspan x="776.9" textLength="27.5" lengthAdjust="spacingAndGlyphs">2026</tspan></text>
<clipPath id="c366"><rect x="1286" y="60.8" width="60" height="6"/></clipPath>
<g clip-path="url(#c366)">
<path d="M1286.9,48.9 H1333.5 Q1336,48.9 1336,51.4 V63.2 Q1336,65.7 1333.5,65.7 H1286.9 V48.9 Z" fill="#0000ff"/>
<text y="61.3" font-size="12.3" fill="#fff" xml:space="preserve"><tspan x="1295.9" textLength="35.1" lengthAdjust="spacingAndGlyphs">3.6600</tspan></text>
</g>
<rect x="1290.2" y="31.0" width="57.6" height="26.2" rx="4.5" fill="#fff" stroke="#f1f2f4" stroke-width="1.2"/>
<text y="48.9" font-size="12.3" fill="#131722" xml:space="preserve"><tspan x="1299.4" textLength="27.6" lengthAdjust="spacingAndGlyphs" stroke="#131722" stroke-width="0.25">USDT</tspan></text>
<path d="M1286.9,485.0 H1333.5 Q1336,485.0 1336,487.5 V499.3 Q1336,501.8 1333.5,501.8 H1286.9 V485.0 Z" fill="#0000ff"/>
<text y="497.6" font-size="12.3" fill="#fff" xml:space="preserve"><tspan x="1295.9" textLength="35.1" lengthAdjust="spacingAndGlyphs" stroke="#fff" stroke-width="0.3">1.6100</tspan></text>
<path d="M1238.6,506.0 H1333.5 Q1336,506.0 1336,508.5 V520.2 Q1336,522.7 1333.5,522.7 H1238.6 Q1236.1,522.7 1236.1,520.2 V508.5 Q1236.1,506.0 1238.6,506.0 Z" fill="#f23645"/>
<text y="518.8" font-size="12.3" fill="#fff" xml:space="preserve"><tspan x="1240.6" textLength="41.3" lengthAdjust="spacingAndGlyphs" stroke="#fff" stroke-width="0.3">SMA:MA</tspan> <tspan x="1295.9" textLength="34.7" lengthAdjust="spacingAndGlyphs" stroke="#fff" stroke-width="0.3">1.3829</tspan></text>
<path d="M1257.6,523.1 H1333.5 Q1336,523.1 1336,525.6 V537.2 Q1336,539.7 1333.5,539.7 H1257.6 Q1255.1,539.7 1255.1,537.2 V525.6 Q1255.1,523.1 1257.6,523.1 Z" fill="#2962ff"/>
<text y="535.7" font-size="12.3" fill="#fff" xml:space="preserve"><tspan x="1260.0" textLength="21.6" lengthAdjust="spacingAndGlyphs" stroke="#fff" stroke-width="0.3">EMA</tspan> <tspan x="1295.9" textLength="34.7" lengthAdjust="spacingAndGlyphs" stroke="#fff" stroke-width="0.3">1.3557</tspan></text>
<path d="M1231.8,540.1 H1290 V556.8 H1231.8 Q1229.3,556.8 1229.3,554.3 V542.6 Q1229.3,540.1 1231.8,540.1 Z" fill="#26a69a"/>
<path d="M1286.9,540.1 H1344.3 Q1346.8,540.1 1346.8,542.6 V582.3 Q1346.8,584.8 1344.3,584.8 H1286.9 V540.1 Z" fill="#26a69a"/>
<text y="552.7" font-size="12.3" fill="#fff" xml:space="preserve"><tspan x="1233.6" textLength="47.3" lengthAdjust="spacingAndGlyphs" stroke="#fff" stroke-width="0.3">XRPUSDT</tspan> <tspan x="1295.9" textLength="34.7" lengthAdjust="spacingAndGlyphs" stroke="#fff" stroke-width="0.3">1.3529</tspan></text>
<text y="566.5" font-size="12.3" fill="#fff" xml:space="preserve"><tspan x="1295.2" textLength="42.6" lengthAdjust="spacingAndGlyphs" stroke="#fff" stroke-width="0.3">−35.74%</tspan></text>
<text y="580.6" font-size="12.3" fill="rgba(255,255,255,0.75)" xml:space="preserve"><tspan x="1295.2" textLength="46.0" lengthAdjust="spacingAndGlyphs" stroke="rgba(255,255,255,0.75)" stroke-width="0.15">08:13:37</tspan></text>
<path d="M1286.9,585.1 H1333.5 Q1336,585.1 1336,587.6 V599.4 Q1336,601.9 1333.5,601.9 H1286.9 V585.1 Z" fill="#0000ff"/>
<text y="597.6" font-size="12.3" fill="#fff" xml:space="preserve"><tspan x="1295.9" textLength="34.9" lengthAdjust="spacingAndGlyphs" stroke="#fff" stroke-width="0.3">1.2700</tspan></text>
<path d="M1263.6,735.1 H1327.5 Q1330,735.1 1330,737.6 V749.3 Q1330,751.8 1327.5,751.8 H1263.6 Q1261.1,751.8 1261.1,749.3 V737.6 Q1261.1,735.1 1263.6,735.1 Z" fill="#7e57c2"/>
<text y="748.1" font-size="12.3" fill="#fff" xml:space="preserve"><tspan x="1266.2" textLength="15.5" lengthAdjust="spacingAndGlyphs" stroke="#fff" stroke-width="0.3">RSI</tspan> <tspan x="1295.0" textLength="29.5" lengthAdjust="spacingAndGlyphs" stroke="#fff" stroke-width="0.3">47.59</tspan></text>
<path d="M1209.5,752.3 H1327.5 Q1330,752.3 1330,754.8 V766.3 Q1330,768.8 1327.5,768.8 H1209.5 Q1207.0,768.8 1207.0,766.3 V754.8 Q1207.0,752.3 1209.5,752.3 Z" fill="#fdd835"/>
<text y="765.1" font-size="12.3" fill="#131722" xml:space="preserve"><tspan x="1211.9" textLength="50.3" lengthAdjust="spacingAndGlyphs" stroke="#131722" stroke-width="0.25">RSI-based</tspan> <tspan x="1266.8" textLength="14.9" lengthAdjust="spacingAndGlyphs" stroke="#131722" stroke-width="0.25">MA</tspan> <tspan x="1295.3" textLength="28.7" lengthAdjust="spacingAndGlyphs" stroke="#131722" stroke-width="0.25">42.22</tspan></text>
<g shape-rendering="crispEdges"><rect x="1286" y="506" width="1" height="51" fill="rgba(255,255,255,0.45)"/><rect x="1286" y="735" width="1" height="34" fill="rgba(255,255,255,0.45)"/></g>
<g fill="#0c0d10">
<path d="M12.2,881.2 H24.05 V895.8 H17.8 V886.9 H12.2 Z"/>
<circle cx="28.8" cy="883.8" r="2.7"/>
<path d="M33.8,881.2 H42 L35.9,895.8 H29.0 Z"/>
</g>
<text x="49.2" y="895.8" font-size="21.2" font-weight="bold" fill="#0c0d10" stroke="#0c0d10" stroke-width="0.3" textLength="120.6" lengthAdjust="spacingAndGlyphs">TradingView</text>
</svg>
</body></html>
